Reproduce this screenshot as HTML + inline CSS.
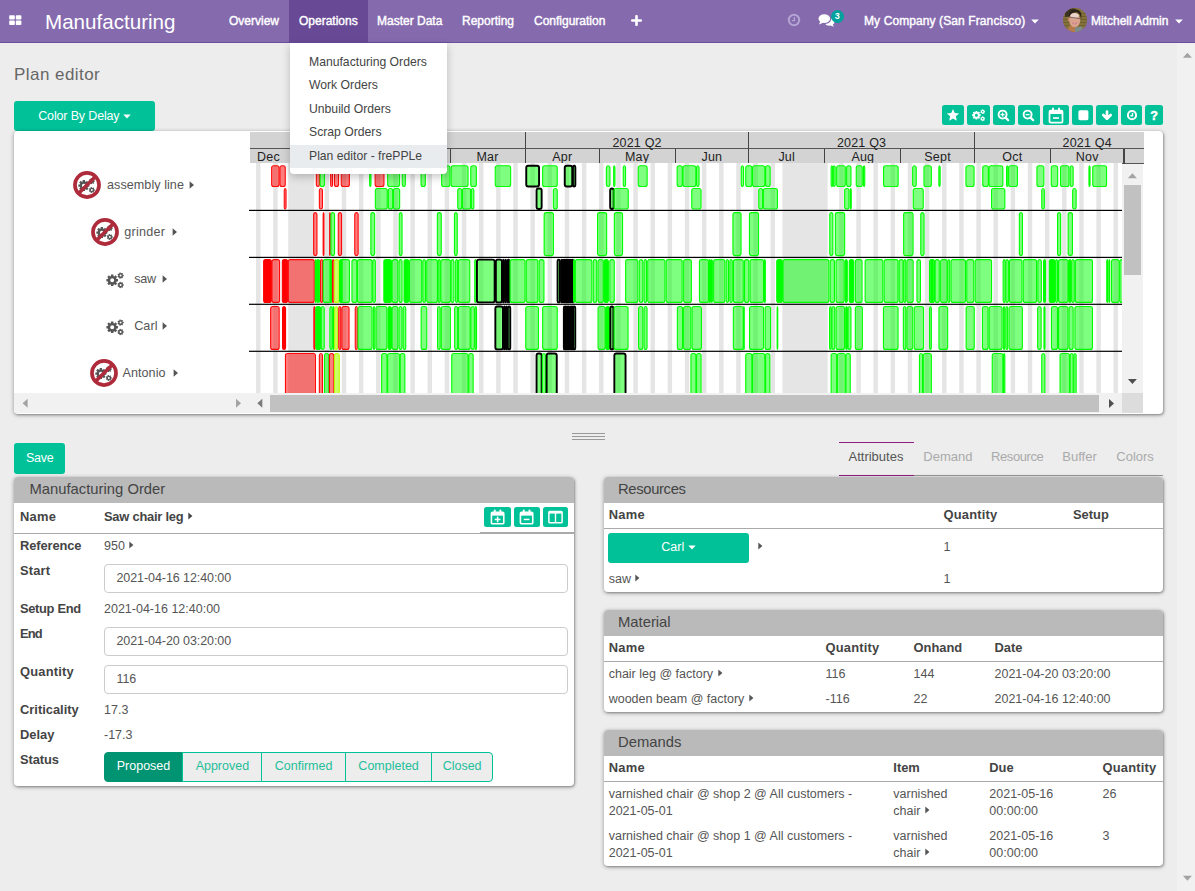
<!DOCTYPE html>
<html><head><meta charset="utf-8"><title>Plan editor</title>
<style>
*{box-sizing:border-box;margin:0;padding:0}
html,body{width:1195px;height:891px;overflow:hidden}
body{background:#ededed;font-family:"Liberation Sans",sans-serif;font-size:12.5px;color:#555;position:relative}
.abs{position:absolute}
#nav{position:absolute;left:0;top:0;width:1195px;height:42.5px;background:#856aae;border-bottom:1.5px solid #6a4f9b}
#nav .mi{position:absolute;top:14px;color:#fff;font-size:12px;line-height:15px;white-space:nowrap;-webkit-text-stroke:0.4px #fff}
#brand{position:absolute;left:45px;top:8.5px;color:#fff;font-size:20.6px;line-height:25px;white-space:nowrap}
#dd{position:absolute;left:290px;top:43px;width:156.5px;height:131.3px;background:#fff;border-radius:0 0 4px 4px;box-shadow:0 3px 8px rgba(0,0,0,0.22)}
#dd div{position:absolute;left:0;width:156.5px;height:23.8px;padding-left:19px;line-height:23.5px;font-size:12.2px;color:#444;white-space:nowrap}
h1{position:absolute;left:14px;top:64px;font-size:17px;font-weight:normal;color:#666;line-height:22px;letter-spacing:0.45px}
.btn{position:absolute;background:#00c198;color:#fff;border-radius:3px;text-align:center;white-space:nowrap}
.tb{position:absolute;top:105px;height:20.3px;background:#00c198;border-radius:2.5px;display:flex;align-items:center;justify-content:center}
.card{position:absolute;background:#fff;border-radius:4px;box-shadow:0 1px 4px rgba(0,0,0,0.36),1px 1px 2px rgba(0,0,0,0.22)}
.gh{position:absolute;text-align:center;font-size:12.5px;color:#222;line-height:14px;height:14px;letter-spacing:0.2px}
.rl{position:absolute;font-size:12.6px;line-height:20px;color:#555;white-space:nowrap;letter-spacing:0.05px}
.ph{position:absolute;left:0;top:0;right:0;height:26px;background:#bababa;border-radius:4px 4px 0 0;font-size:14.8px;color:#444;line-height:25.2px;padding-left:15.5px}
.t{position:absolute;white-space:nowrap;line-height:16px;font-size:12.5px;color:#555}
.b{font-weight:bold;color:#444;font-size:12.9px}
.inp{position:absolute;left:90px;width:463.5px;height:29px;letter-spacing:-0.08px;border:1px solid #ccc;border-radius:4px;background:#fff;padding-left:11.5px;line-height:27.5px;font-size:12.5px;color:#555}
.hr{position:absolute;left:0;right:0;height:1px;background:#aaa}
.ic{display:inline-block;vertical-align:middle;margin-left:4.5px;position:relative;top:-1px}
.sb{position:absolute;top:752.2px;height:29.8px;border:1px solid #00c198;background:#ededed;color:#1fbf9a;line-height:27.5px;text-align:center;font-size:12.5px}
.tab{position:absolute;top:449px;font-size:13px;color:#aaa;line-height:16px;white-space:nowrap}
.sm{position:absolute;top:507px;height:20.2px;background:#00c198;border-radius:2.5px;display:flex;align-items:center;justify-content:center}
</style></head><body>

<!-- ======= page scrollbar ======= -->
<div class="abs" style="left:1177px;top:43px;width:18px;height:848px;background:#f1f1f1"></div>

<h1>Plan editor</h1>
<div class="btn" style="left:14px;top:101px;width:141px;height:29.5px;line-height:31px;font-size:12.5px;letter-spacing:-0.15px">Color By Delay <svg width="8" height="5" viewBox="0 0 8 5" style="vertical-align:middle;position:relative;top:0px"><path d="M0.3 0.5 H7.7 L4 4.5 Z" fill="#fff"/></svg></div>
<div class="tb" style="left:942px;width:22px"><svg width="14" height="14" viewBox="0 0 14 14"><polygon points="7.00,0.90 8.76,4.97 13.18,5.39 9.85,8.33 10.82,12.66 7.00,10.40 3.18,12.66 4.15,8.33 0.82,5.39 5.24,4.97" fill="#fff"/></svg></div>
<div class="tb" style="left:967px;width:22.5px"><svg width="16" height="14" viewBox="0 0 16 14"><g transform="translate(8.5 7) scale(0.75)"><path d="M2.97 -0.94 L2.97 1.54 L1.54 1.49 L1.11 2.53 L2.16 3.50 L0.40 5.26 L-0.57 4.21 L-1.61 4.64 L-1.56 6.07 L-4.04 6.07 L-3.99 4.64 L-5.03 4.21 L-6.00 5.26 L-7.76 3.50 L-6.71 2.53 L-7.14 1.49 L-8.57 1.54 L-8.57 -0.94 L-7.14 -0.89 L-6.71 -1.93 L-7.76 -2.90 L-6.00 -4.66 L-5.03 -3.61 L-3.99 -4.04 L-4.04 -5.47 L-1.56 -5.47 L-1.61 -4.04 L-0.57 -3.61 L0.40 -4.66 L2.16 -2.90 L1.11 -1.93 L1.54 -0.89 Z M-4.80 0.30 a2.00 2.00 0 1 0 4.00 0 a2.00 2.00 0 1 0 -4.00 0 ZM8.71 -5.17 L8.71 -3.63 L7.89 -3.68 L7.59 -3.06 L8.14 -2.45 L6.94 -1.49 L6.46 -2.16 L5.79 -2.01 L5.66 -1.20 L4.16 -1.54 L4.39 -2.33 L3.85 -2.76 L3.13 -2.36 L2.47 -3.74 L3.22 -4.06 L3.22 -4.74 L2.47 -5.06 L3.13 -6.44 L3.85 -6.04 L4.39 -6.47 L4.16 -7.26 L5.66 -7.60 L5.79 -6.79 L6.46 -6.64 L6.94 -7.31 L8.14 -6.35 L7.59 -5.74 L7.89 -5.12 Z M4.60 -4.40 a1.00 1.00 0 1 0 2.00 0 a1.00 1.00 0 1 0 -2.00 0 ZM8.71 4.23 L8.71 5.77 L7.89 5.72 L7.59 6.34 L8.14 6.95 L6.94 7.91 L6.46 7.24 L5.79 7.39 L5.66 8.20 L4.16 7.86 L4.39 7.07 L3.85 6.64 L3.13 7.04 L2.47 5.66 L3.22 5.34 L3.22 4.66 L2.47 4.34 L3.13 2.96 L3.85 3.36 L4.39 2.93 L4.16 2.14 L5.66 1.80 L5.79 2.61 L6.46 2.76 L6.94 2.09 L8.14 3.05 L7.59 3.66 L7.89 4.28 Z M4.60 5.00 a1.00 1.00 0 1 0 2.00 0 a1.00 1.00 0 1 0 -2.00 0 Z" fill="#fff" fill-rule="evenodd"/></g></svg></div>
<div class="tb" style="left:993px;width:21.5px"><svg width="13" height="13" viewBox="0 0 13 13"><circle cx="5.6" cy="5.6" r="4" fill="none" stroke="#fff" stroke-width="1.9"/><line x1="8.6" y1="8.6" x2="11.2" y2="11.2" stroke="#fff" stroke-width="2.2" stroke-linecap="round"/><line x1="3.6" y1="5.6" x2="7.6" y2="5.6" stroke="#fff" stroke-width="1.3"/><line x1="5.6" y1="3.6" x2="5.6" y2="7.6" stroke="#fff" stroke-width="1.3"/></svg></div>
<div class="tb" style="left:1018px;width:21.5px"><svg width="13" height="13" viewBox="0 0 13 13"><circle cx="5.6" cy="5.6" r="4" fill="none" stroke="#fff" stroke-width="1.9"/><line x1="8.6" y1="8.6" x2="11.2" y2="11.2" stroke="#fff" stroke-width="2.2" stroke-linecap="round"/><line x1="3.6" y1="5.6" x2="7.6" y2="5.6" stroke="#fff" stroke-width="1.3"/></svg></div>
<div class="tb" style="left:1043px;width:25.5px"><svg width="16" height="17" viewBox="0 0 16 17"><rect x="1.5" y="3.6" width="13" height="12" rx="1.2" fill="none" stroke="#fff" stroke-width="1.7"/><rect x="1.5" y="3.6" width="13" height="3.4" fill="#fff"/><rect x="4" y="0.6" width="2" height="4.4" rx="1" fill="#fff"/><rect x="10" y="0.6" width="2" height="4.4" rx="1" fill="#fff"/><rect x="5" y="10.2" width="6" height="1.6" fill="#fff"/></svg></div>
<div class="tb" style="left:1072px;width:21px"><svg width="12" height="12" viewBox="0 0 12 12"><rect x="1.4" y="1.2" width="10" height="10" rx="1.6" fill="#fff"/></svg></div>
<div class="tb" style="left:1096px;width:22px"><svg width="12" height="12" viewBox="0 0 12 12"><path d="M6 2.6 V9 M2.3 6 L6 9.7 L9.7 6" fill="none" stroke="#fff" stroke-width="2.7" stroke-linecap="round" stroke-linejoin="round"/></svg></div>
<div class="tb" style="left:1121px;width:21px"><svg width="12" height="12" viewBox="0 0 12 12"><circle cx="6" cy="6.2" r="4.1" fill="none" stroke="#fff" stroke-width="2"/><path d="M6.5 4 V6.8 H4.4" fill="none" stroke="#fff" stroke-width="1.4"/></svg></div>
<div class="tb" style="left:1145px;width:18px"><span style="font-weight:bold;font-size:12.5px;color:#fff;line-height:20px;position:relative;top:1px;-webkit-text-stroke:0.5px #fff">?</span></div>

<!-- ======= gantt card ======= -->
<div class="card" style="left:14px;top:131px;width:1149px;height:282.5px;"></div>
<div style="position:absolute;left:250px;top:131.5px;width:894px;height:32.5px;background:#d3d3d3"></div>
<div style="position:absolute;left:250px;top:147.6px;width:894px;height:1.3px;background:#555"></div>
<div style="position:absolute;left:250px;top:162.9px;width:894px;height:1.3px;background:#555"></div>
<div class="gh" style="left:257px;top:149.5px;width:24px;text-align:left">Dec</div>
<div style="position:absolute;left:304.1px;top:132px;width:1.3px;height:31.5px;background:#444"></div>
<div class="gh" style="left:312.8px;top:149.5px;width:60px">Jan</div>
<div style="position:absolute;left:380.2px;top:148.5px;width:1.3px;height:15px;background:#444"></div>
<div class="gh" style="left:385.1px;top:149.5px;width:60px">Feb</div>
<div style="position:absolute;left:449.7px;top:148.5px;width:1.3px;height:15px;background:#444"></div>
<div class="gh" style="left:457.5px;top:149.5px;width:60px">Mar</div>
<div style="position:absolute;left:524.9px;top:132px;width:1.3px;height:31.5px;background:#444"></div>
<div class="gh" style="left:532.3px;top:149.5px;width:60px">Apr</div>
<div style="position:absolute;left:598.5px;top:148.5px;width:1.3px;height:15px;background:#444"></div>
<div class="gh" style="left:607.1px;top:149.5px;width:60px">May</div>
<div style="position:absolute;left:674.5px;top:148.5px;width:1.3px;height:15px;background:#444"></div>
<div class="gh" style="left:681.9px;top:149.5px;width:60px">Jun</div>
<div style="position:absolute;left:748.1px;top:132px;width:1.3px;height:31.5px;background:#444"></div>
<div class="gh" style="left:756.7px;top:149.5px;width:60px">Jul</div>
<div style="position:absolute;left:824.2px;top:148.5px;width:1.3px;height:15px;background:#444"></div>
<div class="gh" style="left:832.8px;top:149.5px;width:60px">Aug</div>
<div style="position:absolute;left:900.2px;top:148.5px;width:1.3px;height:15px;background:#444"></div>
<div class="gh" style="left:907.6px;top:149.5px;width:60px">Sept</div>
<div style="position:absolute;left:973.8px;top:132px;width:1.3px;height:31.5px;background:#444"></div>
<div class="gh" style="left:982.4px;top:149.5px;width:60px">Oct</div>
<div style="position:absolute;left:1049.8px;top:148.5px;width:1.3px;height:15px;background:#444"></div>
<div class="gh" style="left:1057.2px;top:149.5px;width:60px">Nov</div>
<div style="position:absolute;left:1123.4px;top:148.5px;width:1.3px;height:15px;background:#444"></div>
<div class="gh" style="left:597.1px;top:135.5px;width:80px">2021 Q2</div>
<div class="gh" style="left:821.6px;top:135.5px;width:80px">2021 Q3</div>
<div class="gh" style="left:1047.2px;top:135.5px;width:80px">2021 Q4</div>
<svg width="873" height="230.5" viewBox="0 0 873 230.5" style="position:absolute;left:249px;top:163px;overflow:hidden">
<rect x="0" y="0" width="873" height="230.5" fill="#fff"/>
<rect x="7.05" y="0" width="4.45" height="230.5" fill="#e5e5e5"/>
<rect x="24.20" y="0" width="4.45" height="230.5" fill="#e5e5e5"/>
<rect x="41.35" y="0" width="4.45" height="230.5" fill="#e5e5e5"/>
<rect x="58.50" y="0" width="4.45" height="230.5" fill="#e5e5e5"/>
<rect x="75.65" y="0" width="4.45" height="230.5" fill="#e5e5e5"/>
<rect x="92.80" y="0" width="4.45" height="230.5" fill="#e5e5e5"/>
<rect x="109.95" y="0" width="4.45" height="230.5" fill="#e5e5e5"/>
<rect x="127.10" y="0" width="4.45" height="230.5" fill="#e5e5e5"/>
<rect x="144.25" y="0" width="4.45" height="230.5" fill="#e5e5e5"/>
<rect x="161.40" y="0" width="4.45" height="230.5" fill="#e5e5e5"/>
<rect x="178.55" y="0" width="4.45" height="230.5" fill="#e5e5e5"/>
<rect x="195.70" y="0" width="4.45" height="230.5" fill="#e5e5e5"/>
<rect x="212.85" y="0" width="4.45" height="230.5" fill="#e5e5e5"/>
<rect x="230.00" y="0" width="4.45" height="230.5" fill="#e5e5e5"/>
<rect x="247.15" y="0" width="4.45" height="230.5" fill="#e5e5e5"/>
<rect x="264.30" y="0" width="4.45" height="230.5" fill="#e5e5e5"/>
<rect x="281.45" y="0" width="4.45" height="230.5" fill="#e5e5e5"/>
<rect x="298.60" y="0" width="4.45" height="230.5" fill="#e5e5e5"/>
<rect x="315.75" y="0" width="4.45" height="230.5" fill="#e5e5e5"/>
<rect x="332.90" y="0" width="4.45" height="230.5" fill="#e5e5e5"/>
<rect x="350.05" y="0" width="4.45" height="230.5" fill="#e5e5e5"/>
<rect x="367.20" y="0" width="4.45" height="230.5" fill="#e5e5e5"/>
<rect x="384.35" y="0" width="4.45" height="230.5" fill="#e5e5e5"/>
<rect x="401.50" y="0" width="4.45" height="230.5" fill="#e5e5e5"/>
<rect x="418.65" y="0" width="4.45" height="230.5" fill="#e5e5e5"/>
<rect x="435.80" y="0" width="4.45" height="230.5" fill="#e5e5e5"/>
<rect x="452.95" y="0" width="4.45" height="230.5" fill="#e5e5e5"/>
<rect x="470.10" y="0" width="4.45" height="230.5" fill="#e5e5e5"/>
<rect x="487.25" y="0" width="4.45" height="230.5" fill="#e5e5e5"/>
<rect x="504.40" y="0" width="4.45" height="230.5" fill="#e5e5e5"/>
<rect x="521.55" y="0" width="4.45" height="230.5" fill="#e5e5e5"/>
<rect x="538.70" y="0" width="4.45" height="230.5" fill="#e5e5e5"/>
<rect x="555.85" y="0" width="4.45" height="230.5" fill="#e5e5e5"/>
<rect x="573.00" y="0" width="4.45" height="230.5" fill="#e5e5e5"/>
<rect x="590.15" y="0" width="4.45" height="230.5" fill="#e5e5e5"/>
<rect x="607.30" y="0" width="4.45" height="230.5" fill="#e5e5e5"/>
<rect x="624.45" y="0" width="4.45" height="230.5" fill="#e5e5e5"/>
<rect x="641.60" y="0" width="4.45" height="230.5" fill="#e5e5e5"/>
<rect x="658.75" y="0" width="4.45" height="230.5" fill="#e5e5e5"/>
<rect x="675.90" y="0" width="4.45" height="230.5" fill="#e5e5e5"/>
<rect x="693.05" y="0" width="4.45" height="230.5" fill="#e5e5e5"/>
<rect x="710.20" y="0" width="4.45" height="230.5" fill="#e5e5e5"/>
<rect x="727.35" y="0" width="4.45" height="230.5" fill="#e5e5e5"/>
<rect x="744.50" y="0" width="4.45" height="230.5" fill="#e5e5e5"/>
<rect x="761.65" y="0" width="4.45" height="230.5" fill="#e5e5e5"/>
<rect x="778.80" y="0" width="4.45" height="230.5" fill="#e5e5e5"/>
<rect x="795.95" y="0" width="4.45" height="230.5" fill="#e5e5e5"/>
<rect x="813.10" y="0" width="4.45" height="230.5" fill="#e5e5e5"/>
<rect x="830.25" y="0" width="4.45" height="230.5" fill="#e5e5e5"/>
<rect x="847.40" y="0" width="4.45" height="230.5" fill="#e5e5e5"/>
<rect x="864.55" y="0" width="4.45" height="230.5" fill="#e5e5e5"/>
<rect x="39.20" y="0" width="26.00" height="230.5" fill="#e5e5e5"/>
<rect x="533.40" y="0" width="45.20" height="230.5" fill="#e5e5e5"/>
<rect x="22.65" y="2.70" width="7.40" height="20.80" rx="2" ry="2" fill="rgba(255,0,0,0.5)" stroke="#ff0a0a" stroke-width="1.1"/>
<rect x="30.95" y="2.70" width="5.30" height="20.80" rx="2" ry="2" fill="rgba(255,0,0,0.5)" stroke="#ff0a0a" stroke-width="1.1"/>
<rect x="67.35" y="2.70" width="3.10" height="20.80" rx="2" ry="2" fill="rgba(255,0,0,0.5)" stroke="#ff0a0a" stroke-width="1.1"/>
<rect x="71.15" y="2.70" width="4.30" height="20.80" rx="2" ry="2" fill="rgba(0,255,0,0.5)" stroke="#00ff00" stroke-width="1.1"/>
<rect x="81.65" y="2.70" width="1.90" height="20.80" rx="2" ry="2" fill="rgba(255,0,0,0.5)" stroke="#ff0a0a" stroke-width="1.1"/>
<rect x="85.45" y="2.70" width="4.10" height="20.80" rx="2" ry="2" fill="rgba(255,0,0,0.5)" stroke="#ff0a0a" stroke-width="1.1"/>
<rect x="92.25" y="2.70" width="8.10" height="20.80" rx="2" ry="2" fill="rgba(255,0,0,0.5)" stroke="#ff0a0a" stroke-width="1.1"/>
<rect x="120.65" y="2.70" width="1.30" height="20.80" rx="2" ry="2" fill="rgba(0,255,0,0.5)" stroke="#00ff00" stroke-width="1.1"/>
<rect x="126.15" y="2.70" width="8.80" height="20.80" rx="2" ry="2" fill="rgba(255,0,0,0.5)" stroke="#ff0a0a" stroke-width="1.1"/>
<rect x="138.65" y="2.70" width="11.90" height="20.80" rx="2" ry="2" fill="rgba(0,255,0,0.5)" stroke="#00ff00" stroke-width="1.1"/>
<rect x="153.25" y="2.70" width="3.10" height="20.80" rx="2" ry="2" fill="rgba(0,255,0,0.5)" stroke="#00ff00" stroke-width="1.1"/>
<rect x="172.05" y="2.70" width="4.30" height="20.80" rx="2" ry="2" fill="rgba(0,255,0,0.5)" stroke="#00ff00" stroke-width="1.1"/>
<rect x="192.65" y="2.70" width="8.30" height="20.80" rx="2" ry="2" fill="rgba(0,255,0,0.5)" stroke="#00ff00" stroke-width="1.1"/>
<rect x="202.15" y="2.70" width="16.90" height="20.80" rx="2" ry="2" fill="rgba(0,255,0,0.5)" stroke="#00ff00" stroke-width="1.1"/>
<rect x="221.75" y="2.70" width="5.60" height="20.80" rx="2" ry="2" fill="rgba(0,255,0,0.5)" stroke="#00ff00" stroke-width="1.1"/>
<rect x="246.25" y="2.70" width="15.40" height="20.80" rx="2" ry="2" fill="rgba(0,255,0,0.5)" stroke="#00ff00" stroke-width="1.1"/>
<rect x="277.25" y="2.70" width="12.80" height="20.80" rx="2" ry="2" fill="rgba(0,255,0,0.5)" stroke="#000" stroke-width="1.9"/>
<rect x="293.65" y="2.70" width="14.60" height="20.80" rx="2" ry="2" fill="rgba(0,255,0,0.5)" stroke="#00ff00" stroke-width="1.1"/>
<rect x="315.75" y="2.70" width="7.50" height="20.80" rx="2" ry="2" fill="rgba(0,255,0,0.5)" stroke="#000" stroke-width="1.9"/>
<rect x="323.95" y="2.70" width="2.40" height="20.80" rx="2" ry="2" fill="rgba(0,255,0,0.5)" stroke="#000" stroke-width="1.9"/>
<rect x="357.35" y="2.70" width="3.60" height="20.80" rx="2" ry="2" fill="rgba(0,255,0,0.5)" stroke="#00ff00" stroke-width="1.1"/>
<rect x="364.65" y="2.70" width="1.30" height="20.80" rx="2" ry="2" fill="rgba(0,255,0,0.5)" stroke="#00ff00" stroke-width="1.1"/>
<rect x="374.25" y="2.70" width="2.30" height="20.80" rx="2" ry="2" fill="rgba(0,255,0,0.5)" stroke="#00ff00" stroke-width="1.1"/>
<rect x="389.25" y="2.70" width="8.90" height="20.80" rx="2" ry="2" fill="rgba(0,255,0,0.5)" stroke="#00ff00" stroke-width="1.1"/>
<rect x="428.15" y="2.70" width="5.10" height="20.80" rx="2" ry="2" fill="rgba(0,255,0,0.5)" stroke="#00ff00" stroke-width="1.1"/>
<rect x="433.95" y="2.70" width="12.90" height="20.80" rx="2" ry="2" fill="rgba(0,255,0,0.5)" stroke="#00ff00" stroke-width="1.1"/>
<rect x="447.55" y="2.70" width="2.50" height="20.80" rx="2" ry="2" fill="rgba(0,255,0,0.5)" stroke="#00ff00" stroke-width="1.1"/>
<rect x="492.25" y="2.70" width="2.30" height="20.80" rx="2" ry="2" fill="rgba(0,255,0,0.5)" stroke="#00ff00" stroke-width="1.1"/>
<rect x="496.75" y="2.70" width="6.10" height="20.80" rx="2" ry="2" fill="rgba(0,255,0,0.5)" stroke="#00ff00" stroke-width="1.1"/>
<rect x="503.55" y="2.70" width="12.30" height="20.80" rx="2" ry="2" fill="rgba(0,255,0,0.5)" stroke="#00ff00" stroke-width="1.1"/>
<rect x="516.55" y="2.70" width="4.60" height="20.80" rx="2" ry="2" fill="rgba(0,255,0,0.5)" stroke="#00ff00" stroke-width="1.1"/>
<rect x="582.15" y="2.70" width="1.50" height="20.80" rx="2" ry="2" fill="rgba(0,255,0,0.5)" stroke="#00ff00" stroke-width="1.1"/>
<rect x="584.35" y="2.70" width="1.80" height="20.80" rx="2" ry="2" fill="rgba(0,255,0,0.5)" stroke="#00ff00" stroke-width="1.1"/>
<rect x="587.65" y="2.70" width="8.60" height="20.80" rx="2" ry="2" fill="rgba(0,255,0,0.5)" stroke="#00ff00" stroke-width="1.1"/>
<rect x="597.65" y="2.70" width="4.30" height="20.80" rx="2" ry="2" fill="rgba(0,255,0,0.5)" stroke="#00ff00" stroke-width="1.1"/>
<rect x="607.25" y="2.70" width="6.00" height="20.80" rx="2" ry="2" fill="rgba(0,255,0,0.5)" stroke="#00ff00" stroke-width="1.1"/>
<rect x="614.45" y="2.70" width="1.30" height="20.80" rx="2" ry="2" fill="rgba(0,255,0,0.5)" stroke="#00ff00" stroke-width="1.1"/>
<rect x="634.55" y="2.70" width="14.60" height="20.80" rx="2" ry="2" fill="rgba(0,255,0,0.5)" stroke="#00ff00" stroke-width="1.1"/>
<rect x="663.65" y="2.70" width="3.60" height="20.80" rx="2" ry="2" fill="rgba(0,255,0,0.5)" stroke="#00ff00" stroke-width="1.1"/>
<rect x="674.95" y="2.70" width="7.40" height="20.80" rx="2" ry="2" fill="rgba(0,255,0,0.5)" stroke="#00ff00" stroke-width="1.1"/>
<rect x="689.85" y="2.70" width="1.30" height="20.80" rx="2" ry="2" fill="rgba(0,255,0,0.5)" stroke="#00ff00" stroke-width="1.1"/>
<rect x="716.95" y="2.70" width="8.10" height="20.80" rx="2" ry="2" fill="rgba(0,255,0,0.5)" stroke="#00ff00" stroke-width="1.1"/>
<rect x="733.75" y="2.70" width="5.60" height="20.80" rx="2" ry="2" fill="rgba(0,255,0,0.5)" stroke="#00ff00" stroke-width="1.1"/>
<rect x="740.05" y="2.70" width="13.80" height="20.80" rx="2" ry="2" fill="rgba(0,255,0,0.5)" stroke="#00ff00" stroke-width="1.1"/>
<rect x="757.55" y="2.70" width="1.40" height="20.80" rx="2" ry="2" fill="rgba(0,255,0,0.5)" stroke="#00ff00" stroke-width="1.1"/>
<rect x="759.65" y="2.70" width="8.80" height="20.80" rx="2" ry="2" fill="rgba(0,255,0,0.5)" stroke="#00ff00" stroke-width="1.1"/>
<rect x="787.95" y="2.70" width="6.90" height="20.80" rx="2" ry="2" fill="rgba(0,255,0,0.5)" stroke="#00ff00" stroke-width="1.1"/>
<rect x="802.25" y="2.70" width="6.40" height="20.80" rx="2" ry="2" fill="rgba(0,255,0,0.5)" stroke="#00ff00" stroke-width="1.1"/>
<rect x="811.55" y="2.70" width="8.40" height="20.80" rx="2" ry="2" fill="rgba(0,255,0,0.5)" stroke="#00ff00" stroke-width="1.1"/>
<rect x="821.15" y="2.70" width="3.00" height="20.80" rx="2" ry="2" fill="rgba(0,255,0,0.5)" stroke="#00ff00" stroke-width="1.1"/>
<rect x="839.95" y="2.70" width="1.10" height="20.80" rx="2" ry="2" fill="rgba(0,255,0,0.5)" stroke="#00ff00" stroke-width="1.1"/>
<rect x="843.75" y="2.70" width="13.80" height="20.80" rx="2" ry="2" fill="rgba(0,255,0,0.5)" stroke="#00ff00" stroke-width="1.1"/>
<rect x="35.25" y="25.50" width="1.80" height="20.50" rx="2" ry="2" fill="rgba(255,0,0,0.5)" stroke="#ff0a0a" stroke-width="1.1"/>
<rect x="70.35" y="25.50" width="3.10" height="20.50" rx="2" ry="2" fill="rgba(255,0,0,0.5)" stroke="#ff0a0a" stroke-width="1.1"/>
<rect x="126.35" y="25.50" width="11.90" height="20.50" rx="2" ry="2" fill="rgba(0,255,0,0.5)" stroke="#00ff00" stroke-width="1.1"/>
<rect x="139.35" y="25.50" width="4.30" height="20.50" rx="2" ry="2" fill="rgba(0,255,0,0.5)" stroke="#00ff00" stroke-width="1.1"/>
<rect x="144.35" y="25.50" width="6.30" height="20.50" rx="2" ry="2" fill="rgba(0,255,0,0.5)" stroke="#00ff00" stroke-width="1.1"/>
<rect x="208.75" y="25.50" width="4.00" height="20.50" rx="2" ry="2" fill="rgba(0,255,0,0.5)" stroke="#00ff00" stroke-width="1.1"/>
<rect x="213.45" y="25.50" width="8.20" height="20.50" rx="2" ry="2" fill="rgba(0,255,0,0.5)" stroke="#00ff00" stroke-width="1.1"/>
<rect x="222.35" y="25.50" width="2.50" height="20.50" rx="2" ry="2" fill="rgba(0,255,0,0.5)" stroke="#00ff00" stroke-width="1.1"/>
<rect x="287.55" y="25.50" width="5.10" height="20.50" rx="2" ry="2" fill="rgba(0,255,0,0.5)" stroke="#000" stroke-width="1.9"/>
<rect x="304.35" y="25.50" width="3.90" height="20.50" rx="2" ry="2" fill="rgba(0,255,0,0.5)" stroke="#00ff00" stroke-width="1.1"/>
<rect x="361.15" y="25.50" width="3.50" height="20.50" rx="2" ry="2" fill="rgba(0,255,0,0.5)" stroke="#000" stroke-width="1.9"/>
<rect x="364.95" y="25.50" width="14.30" height="20.50" rx="2" ry="2" fill="rgba(0,255,0,0.5)" stroke="#00ff00" stroke-width="1.1"/>
<rect x="442.75" y="25.50" width="9.30" height="20.50" rx="2" ry="2" fill="rgba(0,255,0,0.5)" stroke="#00ff00" stroke-width="1.1"/>
<rect x="509.75" y="25.50" width="3.90" height="20.50" rx="2" ry="2" fill="rgba(0,255,0,0.5)" stroke="#00ff00" stroke-width="1.1"/>
<rect x="514.35" y="25.50" width="14.10" height="20.50" rx="2" ry="2" fill="rgba(0,255,0,0.5)" stroke="#00ff00" stroke-width="1.1"/>
<rect x="595.65" y="25.50" width="4.30" height="20.50" rx="2" ry="2" fill="rgba(0,255,0,0.5)" stroke="#00ff00" stroke-width="1.1"/>
<rect x="601.15" y="25.50" width="1.10" height="20.50" rx="2" ry="2" fill="rgba(0,255,0,0.5)" stroke="#00ff00" stroke-width="1.1"/>
<rect x="664.25" y="25.50" width="10.00" height="20.50" rx="2" ry="2" fill="rgba(0,255,0,0.5)" stroke="#00ff00" stroke-width="1.1"/>
<rect x="742.55" y="25.50" width="13.30" height="20.50" rx="2" ry="2" fill="rgba(0,255,0,0.5)" stroke="#00ff00" stroke-width="1.1"/>
<rect x="792.75" y="25.50" width="2.60" height="20.50" rx="2" ry="2" fill="rgba(0,255,0,0.5)" stroke="#00ff00" stroke-width="1.1"/>
<rect x="823.65" y="25.50" width="3.50" height="20.50" rx="2" ry="2" fill="rgba(0,255,0,0.5)" stroke="#00ff00" stroke-width="1.1"/>
<rect x="64.65" y="49.60" width="3.30" height="43.00" rx="2" ry="2" fill="rgba(255,0,0,0.5)" stroke="#ff0a0a" stroke-width="1.1"/>
<rect x="74.15" y="49.60" width="0.80" height="43.00" rx="2" ry="2" fill="rgba(255,0,0,0.5)" stroke="#ff0a0a" stroke-width="1.1"/>
<rect x="80.65" y="49.60" width="0.60" height="43.00" rx="2" ry="2" fill="rgba(255,0,0,0.5)" stroke="#ff0a0a" stroke-width="1.1"/>
<rect x="81.95" y="49.60" width="3.60" height="43.00" rx="2" ry="2" fill="rgba(0,255,0,0.5)" stroke="#00ff00" stroke-width="1.1"/>
<rect x="89.25" y="49.60" width="3.30" height="43.00" rx="2" ry="2" fill="rgba(255,0,0,0.5)" stroke="#ff0a0a" stroke-width="1.1"/>
<rect x="105.75" y="49.60" width="3.40" height="43.00" rx="2" ry="2" fill="rgba(255,0,0,0.5)" stroke="#ff0a0a" stroke-width="1.1"/>
<rect x="121.85" y="49.60" width="3.80" height="43.00" rx="2" ry="2" fill="rgba(0,255,0,0.5)" stroke="#00ff00" stroke-width="1.1"/>
<rect x="150.25" y="49.60" width="2.80" height="43.00" rx="2" ry="2" fill="rgba(0,255,0,0.5)" stroke="#00ff00" stroke-width="1.1"/>
<rect x="188.35" y="49.60" width="3.90" height="43.00" rx="2" ry="2" fill="rgba(0,255,0,0.5)" stroke="#00ff00" stroke-width="1.1"/>
<rect x="205.45" y="49.60" width="2.80" height="43.00" rx="2" ry="2" fill="rgba(0,255,0,0.5)" stroke="#00ff00" stroke-width="1.1"/>
<rect x="295.15" y="49.60" width="9.30" height="43.00" rx="2" ry="2" fill="rgba(0,255,0,0.5)" stroke="#00ff00" stroke-width="1.1"/>
<rect x="348.55" y="49.60" width="9.10" height="43.00" rx="2" ry="2" fill="rgba(0,255,0,0.5)" stroke="#00ff00" stroke-width="1.1"/>
<rect x="365.35" y="49.60" width="8.20" height="43.00" rx="2" ry="2" fill="rgba(0,255,0,0.5)" stroke="#00ff00" stroke-width="1.1"/>
<rect x="483.95" y="49.60" width="8.10" height="43.00" rx="2" ry="2" fill="rgba(0,255,0,0.5)" stroke="#00ff00" stroke-width="1.1"/>
<rect x="500.45" y="49.60" width="9.10" height="43.00" rx="2" ry="2" fill="rgba(0,255,0,0.5)" stroke="#00ff00" stroke-width="1.1"/>
<rect x="580.75" y="49.60" width="3.10" height="43.00" rx="2" ry="2" fill="rgba(0,255,0,0.5)" stroke="#00ff00" stroke-width="1.1"/>
<rect x="586.35" y="49.60" width="9.30" height="43.00" rx="2" ry="2" fill="rgba(0,255,0,0.5)" stroke="#00ff00" stroke-width="1.1"/>
<rect x="654.65" y="49.60" width="9.40" height="43.00" rx="2" ry="2" fill="rgba(0,255,0,0.5)" stroke="#00ff00" stroke-width="1.1"/>
<rect x="671.75" y="49.60" width="3.30" height="43.00" rx="2" ry="2" fill="rgba(0,255,0,0.5)" stroke="#00ff00" stroke-width="1.1"/>
<rect x="770.35" y="49.60" width="3.10" height="43.00" rx="2" ry="2" fill="rgba(0,255,0,0.5)" stroke="#00ff00" stroke-width="1.1"/>
<rect x="808.55" y="49.60" width="3.10" height="43.00" rx="2" ry="2" fill="rgba(0,255,0,0.5)" stroke="#00ff00" stroke-width="1.1"/>
<rect x="819.15" y="49.60" width="4.30" height="43.00" rx="2" ry="2" fill="rgba(0,255,0,0.5)" stroke="#00ff00" stroke-width="1.1"/>
<rect x="14.65" y="96.60" width="7.70" height="42.80" rx="2" ry="2" fill="#ff0000" stroke="#ff0000" stroke-width="1.1"/>
<rect x="23.05" y="96.60" width="7.50" height="42.80" rx="2" ry="2" fill="rgba(255,0,0,0.5)" stroke="#ff0a0a" stroke-width="1.1"/>
<rect x="33.35" y="96.60" width="5.30" height="42.80" rx="2" ry="2" fill="#ff0000" stroke="#ff0000" stroke-width="1.1"/>
<rect x="39.35" y="96.60" width="25.90" height="42.80" rx="2" ry="2" fill="rgba(255,0,0,0.5)" stroke="#ff0a0a" stroke-width="1.1"/>
<rect x="66.25" y="96.60" width="0.60" height="42.80" rx="2" ry="2" fill="#00ff00" stroke="#00ff00" stroke-width="1.1"/>
<rect x="67.35" y="96.60" width="3.50" height="42.80" rx="2" ry="2" fill="#00ff00" stroke="#00ff00" stroke-width="1.1"/>
<rect x="71.55" y="96.60" width="2.00" height="42.80" rx="2" ry="2" fill="rgba(255,0,0,0.5)" stroke="#ff0a0a" stroke-width="1.1"/>
<rect x="74.25" y="96.60" width="8.40" height="42.80" rx="2" ry="2" fill="rgba(0,255,0,0.5)" stroke="#00ff00" stroke-width="1.1"/>
<rect x="80.95" y="96.60" width="1.70" height="42.80" rx="2" ry="2" fill="#00ff00" stroke="#00ff00" stroke-width="1.1"/>
<rect x="83.45" y="96.60" width="1.50" height="42.80" rx="2" ry="2" fill="rgba(255,0,0,0.5)" stroke="#ff0a0a" stroke-width="1.1"/>
<rect x="85.35" y="96.60" width="4.70" height="42.80" rx="2" ry="2" fill="rgba(170,255,0,0.6)" stroke="#b4ff00" stroke-width="1.1"/>
<rect x="90.75" y="96.60" width="9.70" height="42.80" rx="2" ry="2" fill="rgba(0,255,0,0.5)" stroke="#00ff00" stroke-width="1.1"/>
<rect x="90.75" y="96.60" width="2.40" height="42.80" rx="2" ry="2" fill="#00ff00" stroke="#00ff00" stroke-width="1.1"/>
<rect x="102.95" y="96.60" width="4.80" height="42.80" rx="2" ry="2" fill="rgba(0,255,0,0.5)" stroke="#00ff00" stroke-width="1.1"/>
<rect x="108.45" y="96.60" width="14.60" height="42.80" rx="2" ry="2" fill="rgba(0,255,0,0.5)" stroke="#00ff00" stroke-width="1.1"/>
<rect x="123.75" y="96.60" width="2.60" height="42.80" rx="2" ry="2" fill="rgba(0,255,0,0.5)" stroke="#00ff00" stroke-width="1.1"/>
<rect x="134.85" y="96.60" width="7.60" height="42.80" rx="2" ry="2" fill="#00ff00" stroke="#00ff00" stroke-width="1.1"/>
<rect x="143.15" y="96.60" width="5.70" height="42.80" rx="2" ry="2" fill="rgba(0,255,0,0.5)" stroke="#00ff00" stroke-width="1.1"/>
<rect x="150.05" y="96.60" width="3.00" height="42.80" rx="2" ry="2" fill="rgba(0,255,0,0.5)" stroke="#00ff00" stroke-width="1.1"/>
<rect x="155.05" y="96.60" width="4.80" height="42.80" rx="2" ry="2" fill="#00ff00" stroke="#00ff00" stroke-width="1.1"/>
<rect x="160.55" y="96.60" width="12.20" height="42.80" rx="2" ry="2" fill="rgba(0,255,0,0.5)" stroke="#00ff00" stroke-width="1.1"/>
<rect x="173.85" y="96.60" width="2.60" height="42.80" rx="2" ry="2" fill="rgba(0,255,0,0.5)" stroke="#00ff00" stroke-width="1.1"/>
<rect x="177.75" y="96.60" width="10.70" height="42.80" rx="2" ry="2" fill="rgba(0,255,0,0.5)" stroke="#00ff00" stroke-width="1.1"/>
<rect x="189.15" y="96.60" width="2.00" height="42.80" rx="2" ry="2" fill="rgba(0,255,0,0.5)" stroke="#00ff00" stroke-width="1.1"/>
<rect x="191.85" y="96.60" width="9.50" height="42.80" rx="2" ry="2" fill="rgba(0,255,0,0.5)" stroke="#00ff00" stroke-width="1.1"/>
<rect x="202.05" y="96.60" width="2.90" height="42.80" rx="2" ry="2" fill="rgba(0,255,0,0.5)" stroke="#00ff00" stroke-width="1.1"/>
<rect x="206.65" y="96.60" width="2.00" height="42.80" rx="2" ry="2" fill="rgba(0,255,0,0.5)" stroke="#00ff00" stroke-width="1.1"/>
<rect x="209.35" y="96.60" width="11.40" height="42.80" rx="2" ry="2" fill="rgba(0,255,0,0.5)" stroke="#00ff00" stroke-width="1.1"/>
<rect x="225.75" y="96.60" width="1.50" height="42.80" rx="2" ry="2" fill="rgba(0,255,0,0.5)" stroke="#00ff00" stroke-width="1.1"/>
<rect x="227.95" y="96.60" width="17.70" height="42.80" rx="2" ry="2" fill="rgba(0,255,0,0.5)" stroke="#000" stroke-width="1.9"/>
<rect x="246.85" y="96.60" width="6.10" height="42.80" rx="2" ry="2" fill="rgba(0,255,0,0.5)" stroke="#000" stroke-width="1.9"/>
<rect x="253.85" y="96.60" width="1.10" height="42.80" rx="2" ry="2" fill="rgba(0,255,0,0.5)" stroke="#000" stroke-width="1.9"/>
<rect x="256.15" y="96.60" width="1.00" height="42.80" rx="2" ry="2" fill="rgba(0,255,0,0.5)" stroke="#000" stroke-width="1.9"/>
<rect x="258.55" y="96.60" width="1.80" height="42.80" rx="2" ry="2" fill="rgba(0,255,0,0.5)" stroke="#000" stroke-width="1.9"/>
<rect x="261.05" y="96.60" width="15.00" height="42.80" rx="2" ry="2" fill="rgba(0,255,0,0.5)" stroke="#00ff00" stroke-width="1.1"/>
<rect x="277.25" y="96.60" width="11.60" height="42.80" rx="2" ry="2" fill="rgba(0,255,0,0.5)" stroke="#00ff00" stroke-width="1.1"/>
<rect x="290.15" y="96.60" width="4.80" height="42.80" rx="2" ry="2" fill="rgba(0,255,0,0.5)" stroke="#00ff00" stroke-width="1.1"/>
<rect x="308.55" y="96.60" width="2.40" height="42.80" rx="2" ry="2" fill="rgba(0,255,0,0.5)" stroke="#000" stroke-width="1.9"/>
<rect x="312.25" y="96.60" width="0.90" height="42.80" rx="2" ry="2" fill="rgba(0,255,0,0.5)" stroke="#000" stroke-width="1.9"/>
<rect x="313.65" y="96.60" width="1.00" height="42.80" rx="2" ry="2" fill="rgba(0,255,0,0.5)" stroke="#000" stroke-width="1.9"/>
<rect x="315.15" y="96.60" width="1.00" height="42.80" rx="2" ry="2" fill="rgba(0,255,0,0.5)" stroke="#000" stroke-width="1.9"/>
<rect x="316.65" y="96.60" width="1.00" height="42.80" rx="2" ry="2" fill="rgba(0,255,0,0.5)" stroke="#000" stroke-width="1.9"/>
<rect x="318.15" y="96.60" width="1.00" height="42.80" rx="2" ry="2" fill="rgba(0,255,0,0.5)" stroke="#000" stroke-width="1.9"/>
<rect x="319.65" y="96.60" width="1.00" height="42.80" rx="2" ry="2" fill="rgba(0,255,0,0.5)" stroke="#000" stroke-width="1.9"/>
<rect x="321.15" y="96.60" width="1.00" height="42.80" rx="2" ry="2" fill="rgba(0,255,0,0.5)" stroke="#000" stroke-width="1.9"/>
<rect x="322.65" y="96.60" width="1.80" height="42.80" rx="2" ry="2" fill="rgba(0,255,0,0.5)" stroke="#000" stroke-width="1.9"/>
<rect x="312.85" y="96.60" width="10.80" height="42.80" rx="2" ry="2" fill="#000" stroke="#000" stroke-width="1.1"/>
<rect x="324.55" y="96.60" width="1.10" height="42.80" rx="2" ry="2" fill="rgba(0,255,0,0.5)" stroke="#00ff00" stroke-width="1.1"/>
<rect x="326.35" y="96.60" width="16.50" height="42.80" rx="2" ry="2" fill="rgba(0,255,0,0.5)" stroke="#00ff00" stroke-width="1.1"/>
<rect x="344.25" y="96.60" width="3.50" height="42.80" rx="2" ry="2" fill="rgba(0,255,0,0.5)" stroke="#00ff00" stroke-width="1.1"/>
<rect x="349.05" y="96.60" width="5.20" height="42.80" rx="2" ry="2" fill="rgba(0,255,0,0.5)" stroke="#00ff00" stroke-width="1.1"/>
<rect x="354.95" y="96.60" width="4.40" height="42.80" rx="2" ry="2" fill="#00ff00" stroke="#00ff00" stroke-width="1.1"/>
<rect x="360.85" y="96.60" width="4.40" height="42.80" rx="2" ry="2" fill="rgba(0,255,0,0.5)" stroke="#00ff00" stroke-width="1.1"/>
<rect x="376.65" y="96.60" width="12.20" height="42.80" rx="2" ry="2" fill="rgba(0,255,0,0.5)" stroke="#00ff00" stroke-width="1.1"/>
<rect x="390.25" y="96.60" width="3.60" height="42.80" rx="2" ry="2" fill="rgba(0,255,0,0.5)" stroke="#00ff00" stroke-width="1.1"/>
<rect x="395.05" y="96.60" width="2.50" height="42.80" rx="2" ry="2" fill="rgba(0,255,0,0.5)" stroke="#00ff00" stroke-width="1.1"/>
<rect x="398.75" y="96.60" width="17.20" height="42.80" rx="2" ry="2" fill="rgba(0,255,0,0.5)" stroke="#00ff00" stroke-width="1.1"/>
<rect x="417.15" y="96.60" width="16.00" height="42.80" rx="2" ry="2" fill="rgba(0,255,0,0.5)" stroke="#00ff00" stroke-width="1.1"/>
<rect x="434.65" y="96.60" width="7.70" height="42.80" rx="2" ry="2" fill="rgba(0,255,0,0.5)" stroke="#00ff00" stroke-width="1.1"/>
<rect x="450.45" y="96.60" width="8.90" height="42.80" rx="2" ry="2" fill="rgba(0,255,0,0.5)" stroke="#00ff00" stroke-width="1.1"/>
<rect x="459.65" y="96.60" width="1.90" height="42.80" rx="2" ry="2" fill="#00ff00" stroke="#00ff00" stroke-width="1.1"/>
<rect x="462.25" y="96.60" width="1.10" height="42.80" rx="2" ry="2" fill="rgba(0,255,0,0.5)" stroke="#00ff00" stroke-width="1.1"/>
<rect x="464.65" y="96.60" width="11.20" height="42.80" rx="2" ry="2" fill="rgba(0,255,0,0.5)" stroke="#00ff00" stroke-width="1.1"/>
<rect x="477.15" y="96.60" width="2.40" height="42.80" rx="2" ry="2" fill="rgba(0,255,0,0.5)" stroke="#00ff00" stroke-width="1.1"/>
<rect x="480.85" y="96.60" width="2.40" height="42.80" rx="2" ry="2" fill="rgba(0,255,0,0.5)" stroke="#00ff00" stroke-width="1.1"/>
<rect x="484.45" y="96.60" width="9.80" height="42.80" rx="2" ry="2" fill="rgba(0,255,0,0.5)" stroke="#00ff00" stroke-width="1.1"/>
<rect x="495.55" y="96.60" width="4.30" height="42.80" rx="2" ry="2" fill="rgba(0,255,0,0.5)" stroke="#00ff00" stroke-width="1.1"/>
<rect x="501.05" y="96.60" width="13.50" height="42.80" rx="2" ry="2" fill="rgba(0,255,0,0.5)" stroke="#00ff00" stroke-width="1.1"/>
<rect x="515.25" y="96.60" width="1.10" height="42.80" rx="2" ry="2" fill="rgba(0,255,0,0.5)" stroke="#00ff00" stroke-width="1.1"/>
<rect x="527.75" y="96.60" width="5.60" height="42.80" rx="2" ry="2" fill="#00ff00" stroke="#00ff00" stroke-width="1.1"/>
<rect x="534.05" y="96.60" width="45.80" height="42.80" rx="2" ry="2" fill="rgba(0,255,0,0.5)" stroke="#00ff00" stroke-width="1.1"/>
<rect x="581.15" y="96.60" width="4.30" height="42.80" rx="2" ry="2" fill="rgba(0,255,0,0.5)" stroke="#00ff00" stroke-width="1.1"/>
<rect x="587.05" y="96.60" width="8.10" height="42.80" rx="2" ry="2" fill="rgba(0,255,0,0.5)" stroke="#00ff00" stroke-width="1.1"/>
<rect x="596.25" y="96.60" width="2.00" height="42.80" rx="2" ry="2" fill="#00ff00" stroke="#00ff00" stroke-width="1.1"/>
<rect x="600.25" y="96.60" width="4.50" height="42.80" rx="2" ry="2" fill="#00ff00" stroke="#00ff00" stroke-width="1.1"/>
<rect x="606.35" y="96.60" width="6.70" height="42.80" rx="2" ry="2" fill="rgba(0,255,0,0.5)" stroke="#00ff00" stroke-width="1.1"/>
<rect x="616.15" y="96.60" width="17.70" height="42.80" rx="2" ry="2" fill="rgba(0,255,0,0.5)" stroke="#00ff00" stroke-width="1.1"/>
<rect x="635.15" y="96.60" width="13.90" height="42.80" rx="2" ry="2" fill="rgba(0,255,0,0.5)" stroke="#00ff00" stroke-width="1.1"/>
<rect x="650.15" y="96.60" width="3.90" height="42.80" rx="2" ry="2" fill="rgba(0,255,0,0.5)" stroke="#00ff00" stroke-width="1.1"/>
<rect x="654.75" y="96.60" width="2.10" height="42.80" rx="2" ry="2" fill="rgba(0,255,0,0.5)" stroke="#00ff00" stroke-width="1.1"/>
<rect x="657.95" y="96.60" width="6.20" height="42.80" rx="2" ry="2" fill="rgba(0,255,0,0.5)" stroke="#00ff00" stroke-width="1.1"/>
<rect x="667.95" y="96.60" width="3.50" height="42.80" rx="2" ry="2" fill="rgba(0,255,0,0.5)" stroke="#00ff00" stroke-width="1.1"/>
<rect x="680.55" y="96.60" width="4.90" height="42.80" rx="2" ry="2" fill="rgba(0,255,0,0.5)" stroke="#00ff00" stroke-width="1.1"/>
<rect x="681.85" y="96.60" width="2.30" height="42.80" rx="2" ry="2" fill="#00ff00" stroke="#00ff00" stroke-width="1.1"/>
<rect x="686.15" y="96.60" width="4.10" height="42.80" rx="2" ry="2" fill="rgba(0,255,0,0.5)" stroke="#00ff00" stroke-width="1.1"/>
<rect x="691.65" y="96.60" width="6.40" height="42.80" rx="2" ry="2" fill="rgba(0,255,0,0.5)" stroke="#00ff00" stroke-width="1.1"/>
<rect x="698.75" y="96.60" width="2.00" height="42.80" rx="2" ry="2" fill="rgba(0,255,0,0.5)" stroke="#00ff00" stroke-width="1.1"/>
<rect x="702.05" y="96.60" width="14.40" height="42.80" rx="2" ry="2" fill="rgba(0,255,0,0.5)" stroke="#00ff00" stroke-width="1.1"/>
<rect x="717.75" y="96.60" width="7.00" height="42.80" rx="2" ry="2" fill="rgba(0,255,0,0.5)" stroke="#00ff00" stroke-width="1.1"/>
<rect x="726.15" y="96.60" width="16.40" height="42.80" rx="2" ry="2" fill="rgba(0,255,0,0.5)" stroke="#00ff00" stroke-width="1.1"/>
<rect x="754.15" y="96.60" width="2.00" height="42.80" rx="2" ry="2" fill="rgba(0,255,0,0.5)" stroke="#00ff00" stroke-width="1.1"/>
<rect x="756.85" y="96.60" width="2.50" height="42.80" rx="2" ry="2" fill="rgba(0,255,0,0.5)" stroke="#00ff00" stroke-width="1.1"/>
<rect x="760.45" y="96.60" width="12.50" height="42.80" rx="2" ry="2" fill="rgba(0,255,0,0.5)" stroke="#00ff00" stroke-width="1.1"/>
<rect x="774.25" y="96.60" width="13.30" height="42.80" rx="2" ry="2" fill="rgba(0,255,0,0.5)" stroke="#00ff00" stroke-width="1.1"/>
<rect x="788.85" y="96.60" width="3.50" height="42.80" rx="2" ry="2" fill="rgba(0,255,0,0.5)" stroke="#00ff00" stroke-width="1.1"/>
<rect x="794.55" y="96.60" width="2.00" height="42.80" rx="2" ry="2" fill="#00ff00" stroke="#00ff00" stroke-width="1.1"/>
<rect x="800.35" y="96.60" width="5.60" height="42.80" rx="2" ry="2" fill="#00ff00" stroke="#00ff00" stroke-width="1.1"/>
<rect x="806.65" y="96.60" width="1.80" height="42.80" rx="2" ry="2" fill="rgba(0,255,0,0.5)" stroke="#00ff00" stroke-width="1.1"/>
<rect x="809.55" y="96.60" width="9.40" height="42.80" rx="2" ry="2" fill="rgba(0,255,0,0.5)" stroke="#00ff00" stroke-width="1.1"/>
<rect x="819.65" y="96.60" width="2.40" height="42.80" rx="2" ry="2" fill="#00ff00" stroke="#00ff00" stroke-width="1.1"/>
<rect x="822.75" y="96.60" width="2.50" height="42.80" rx="2" ry="2" fill="rgba(0,255,0,0.5)" stroke="#00ff00" stroke-width="1.1"/>
<rect x="826.35" y="96.60" width="17.10" height="42.80" rx="2" ry="2" fill="rgba(0,255,0,0.5)" stroke="#00ff00" stroke-width="1.1"/>
<rect x="857.75" y="96.60" width="0.90" height="42.80" rx="2" ry="2" fill="rgba(0,255,0,0.5)" stroke="#00ff00" stroke-width="1.1"/>
<rect x="859.85" y="96.60" width="0.90" height="42.80" rx="2" ry="2" fill="rgba(0,255,0,0.5)" stroke="#00ff00" stroke-width="1.1"/>
<rect x="862.55" y="96.60" width="7.60" height="42.80" rx="2" ry="2" fill="rgba(0,255,0,0.5)" stroke="#00ff00" stroke-width="1.1"/>
<rect x="870.85" y="96.60" width="5.80" height="42.80" rx="2" ry="2" fill="rgba(0,255,0,0.5)" stroke="#00ff00" stroke-width="1.1"/>
<rect x="21.65" y="143.50" width="8.50" height="42.90" rx="2" ry="2" fill="rgba(255,0,0,0.5)" stroke="#ff0a0a" stroke-width="1.1"/>
<rect x="33.55" y="143.50" width="3.00" height="42.90" rx="2" ry="2" fill="#ff0000" stroke="#ff0000" stroke-width="1.1"/>
<rect x="64.85" y="143.50" width="1.20" height="42.90" rx="2" ry="2" fill="rgba(255,0,0,0.5)" stroke="#ff0a0a" stroke-width="1.1"/>
<rect x="66.75" y="143.50" width="4.80" height="42.90" rx="2" ry="2" fill="#00ff00" stroke="#00ff00" stroke-width="1.1"/>
<rect x="72.25" y="143.50" width="3.00" height="42.90" rx="2" ry="2" fill="rgba(0,255,0,0.5)" stroke="#00ff00" stroke-width="1.1"/>
<rect x="80.85" y="143.50" width="2.30" height="42.90" rx="2" ry="2" fill="rgba(0,255,0,0.5)" stroke="#00ff00" stroke-width="1.1"/>
<rect x="83.85" y="143.50" width="1.10" height="42.90" rx="2" ry="2" fill="rgba(0,255,0,0.5)" stroke="#00ff00" stroke-width="1.1"/>
<rect x="85.65" y="143.50" width="3.00" height="42.90" rx="2" ry="2" fill="rgba(170,255,0,0.6)" stroke="#b4ff00" stroke-width="1.1"/>
<rect x="89.75" y="143.50" width="2.00" height="42.90" rx="2" ry="2" fill="rgba(255,0,0,0.5)" stroke="#ff0a0a" stroke-width="1.1"/>
<rect x="92.85" y="143.50" width="7.20" height="42.90" rx="2" ry="2" fill="rgba(255,0,0,0.5)" stroke="#ff0a0a" stroke-width="1.1"/>
<rect x="106.25" y="143.50" width="2.10" height="42.90" rx="2" ry="2" fill="rgba(255,0,0,0.5)" stroke="#ff0a0a" stroke-width="1.1"/>
<rect x="109.05" y="143.50" width="14.00" height="42.90" rx="2" ry="2" fill="rgba(0,255,0,0.5)" stroke="#00ff00" stroke-width="1.1"/>
<rect x="124.35" y="143.50" width="1.50" height="42.90" rx="2" ry="2" fill="rgba(0,255,0,0.5)" stroke="#00ff00" stroke-width="1.1"/>
<rect x="127.05" y="143.50" width="10.80" height="42.90" rx="2" ry="2" fill="rgba(0,255,0,0.5)" stroke="#00ff00" stroke-width="1.1"/>
<rect x="139.05" y="143.50" width="3.40" height="42.90" rx="2" ry="2" fill="#00ff00" stroke="#00ff00" stroke-width="1.1"/>
<rect x="143.15" y="143.50" width="5.70" height="42.90" rx="2" ry="2" fill="rgba(0,255,0,0.5)" stroke="#00ff00" stroke-width="1.1"/>
<rect x="150.05" y="143.50" width="3.00" height="42.90" rx="2" ry="2" fill="rgba(0,255,0,0.5)" stroke="#00ff00" stroke-width="1.1"/>
<rect x="154.15" y="143.50" width="2.60" height="42.90" rx="2" ry="2" fill="rgba(0,255,0,0.5)" stroke="#00ff00" stroke-width="1.1"/>
<rect x="172.15" y="143.50" width="5.60" height="42.90" rx="2" ry="2" fill="rgba(0,255,0,0.5)" stroke="#00ff00" stroke-width="1.1"/>
<rect x="188.55" y="143.50" width="2.60" height="42.90" rx="2" ry="2" fill="rgba(0,255,0,0.5)" stroke="#00ff00" stroke-width="1.1"/>
<rect x="192.25" y="143.50" width="9.10" height="42.90" rx="2" ry="2" fill="rgba(0,255,0,0.5)" stroke="#00ff00" stroke-width="1.1"/>
<rect x="205.65" y="143.50" width="3.00" height="42.90" rx="2" ry="2" fill="rgba(0,255,0,0.5)" stroke="#00ff00" stroke-width="1.1"/>
<rect x="209.35" y="143.50" width="11.80" height="42.90" rx="2" ry="2" fill="rgba(0,255,0,0.5)" stroke="#00ff00" stroke-width="1.1"/>
<rect x="221.85" y="143.50" width="3.50" height="42.90" rx="2" ry="2" fill="rgba(0,255,0,0.5)" stroke="#00ff00" stroke-width="1.1"/>
<rect x="226.05" y="143.50" width="1.50" height="42.90" rx="2" ry="2" fill="rgba(0,255,0,0.5)" stroke="#00ff00" stroke-width="1.1"/>
<rect x="246.35" y="143.50" width="7.60" height="42.90" rx="2" ry="2" fill="rgba(0,255,0,0.5)" stroke="#000" stroke-width="1.9"/>
<rect x="254.85" y="143.50" width="1.00" height="42.90" rx="2" ry="2" fill="rgba(0,255,0,0.5)" stroke="#000" stroke-width="1.9"/>
<rect x="256.85" y="143.50" width="1.10" height="42.90" rx="2" ry="2" fill="rgba(0,255,0,0.5)" stroke="#000" stroke-width="1.9"/>
<rect x="258.85" y="143.50" width="2.40" height="42.90" rx="2" ry="2" fill="rgba(0,255,0,0.5)" stroke="#000" stroke-width="1.9"/>
<rect x="276.75" y="143.50" width="12.70" height="42.90" rx="2" ry="2" fill="rgba(0,255,0,0.5)" stroke="#00ff00" stroke-width="1.1"/>
<rect x="293.65" y="143.50" width="14.60" height="42.90" rx="2" ry="2" fill="rgba(0,255,0,0.5)" stroke="#00ff00" stroke-width="1.1"/>
<rect x="314.85" y="143.50" width="0.80" height="42.90" rx="2" ry="2" fill="rgba(0,255,0,0.5)" stroke="#000" stroke-width="1.9"/>
<rect x="316.15" y="143.50" width="1.00" height="42.90" rx="2" ry="2" fill="rgba(0,255,0,0.5)" stroke="#000" stroke-width="1.9"/>
<rect x="317.65" y="143.50" width="1.00" height="42.90" rx="2" ry="2" fill="rgba(0,255,0,0.5)" stroke="#000" stroke-width="1.9"/>
<rect x="319.15" y="143.50" width="1.00" height="42.90" rx="2" ry="2" fill="rgba(0,255,0,0.5)" stroke="#000" stroke-width="1.9"/>
<rect x="320.65" y="143.50" width="1.00" height="42.90" rx="2" ry="2" fill="rgba(0,255,0,0.5)" stroke="#000" stroke-width="1.9"/>
<rect x="322.15" y="143.50" width="1.70" height="42.90" rx="2" ry="2" fill="rgba(0,255,0,0.5)" stroke="#000" stroke-width="1.9"/>
<rect x="315.35" y="143.50" width="7.80" height="42.90" rx="2" ry="2" fill="#000" stroke="#000" stroke-width="1.1"/>
<rect x="324.05" y="143.50" width="2.20" height="42.90" rx="2" ry="2" fill="rgba(0,255,0,0.5)" stroke="#000" stroke-width="1.9"/>
<rect x="349.05" y="143.50" width="7.00" height="42.90" rx="2" ry="2" fill="rgba(0,255,0,0.5)" stroke="#00ff00" stroke-width="1.1"/>
<rect x="356.75" y="143.50" width="3.90" height="42.90" rx="2" ry="2" fill="#00ff00" stroke="#00ff00" stroke-width="1.1"/>
<rect x="361.35" y="143.50" width="3.00" height="42.90" rx="2" ry="2" fill="rgba(0,255,0,0.5)" stroke="#000" stroke-width="1.9"/>
<rect x="365.05" y="143.50" width="14.00" height="42.90" rx="2" ry="2" fill="rgba(0,255,0,0.5)" stroke="#00ff00" stroke-width="1.1"/>
<rect x="389.55" y="143.50" width="4.30" height="42.90" rx="2" ry="2" fill="rgba(0,255,0,0.5)" stroke="#00ff00" stroke-width="1.1"/>
<rect x="395.05" y="143.50" width="3.00" height="42.90" rx="2" ry="2" fill="rgba(0,255,0,0.5)" stroke="#00ff00" stroke-width="1.1"/>
<rect x="428.35" y="143.50" width="5.20" height="42.90" rx="2" ry="2" fill="rgba(0,255,0,0.5)" stroke="#00ff00" stroke-width="1.1"/>
<rect x="434.65" y="143.50" width="7.20" height="42.90" rx="2" ry="2" fill="rgba(0,255,0,0.5)" stroke="#00ff00" stroke-width="1.1"/>
<rect x="443.05" y="143.50" width="9.40" height="42.90" rx="2" ry="2" fill="rgba(0,255,0,0.5)" stroke="#00ff00" stroke-width="1.1"/>
<rect x="484.35" y="143.50" width="9.90" height="42.90" rx="2" ry="2" fill="rgba(0,255,0,0.5)" stroke="#00ff00" stroke-width="1.1"/>
<rect x="494.65" y="143.50" width="0.60" height="42.90" rx="2" ry="2" fill="rgba(0,255,0,0.5)" stroke="#00ff00" stroke-width="1.1"/>
<rect x="500.55" y="143.50" width="14.00" height="42.90" rx="2" ry="2" fill="rgba(0,255,0,0.5)" stroke="#00ff00" stroke-width="1.1"/>
<rect x="516.15" y="143.50" width="5.40" height="42.90" rx="2" ry="2" fill="rgba(0,255,0,0.5)" stroke="#00ff00" stroke-width="1.1"/>
<rect x="528.15" y="143.50" width="0.60" height="42.90" rx="2" ry="2" fill="rgba(0,255,0,0.5)" stroke="#00ff00" stroke-width="1.1"/>
<rect x="580.55" y="143.50" width="1.70" height="42.90" rx="2" ry="2" fill="rgba(0,255,0,0.5)" stroke="#00ff00" stroke-width="1.1"/>
<rect x="582.95" y="143.50" width="2.80" height="42.90" rx="2" ry="2" fill="rgba(0,255,0,0.5)" stroke="#00ff00" stroke-width="1.1"/>
<rect x="587.05" y="143.50" width="8.50" height="42.90" rx="2" ry="2" fill="rgba(0,255,0,0.5)" stroke="#00ff00" stroke-width="1.1"/>
<rect x="596.75" y="143.50" width="1.60" height="42.90" rx="2" ry="2" fill="#00ff00" stroke="#00ff00" stroke-width="1.1"/>
<rect x="599.05" y="143.50" width="2.90" height="42.90" rx="2" ry="2" fill="rgba(0,255,0,0.5)" stroke="#00ff00" stroke-width="1.1"/>
<rect x="606.35" y="143.50" width="7.00" height="42.90" rx="2" ry="2" fill="rgba(0,255,0,0.5)" stroke="#00ff00" stroke-width="1.1"/>
<rect x="634.45" y="143.50" width="14.60" height="42.90" rx="2" ry="2" fill="rgba(0,255,0,0.5)" stroke="#00ff00" stroke-width="1.1"/>
<rect x="654.35" y="143.50" width="2.50" height="42.90" rx="2" ry="2" fill="rgba(0,255,0,0.5)" stroke="#00ff00" stroke-width="1.1"/>
<rect x="657.95" y="143.50" width="5.80" height="42.90" rx="2" ry="2" fill="rgba(0,255,0,0.5)" stroke="#00ff00" stroke-width="1.1"/>
<rect x="665.25" y="143.50" width="9.30" height="42.90" rx="2" ry="2" fill="rgba(0,255,0,0.5)" stroke="#00ff00" stroke-width="1.1"/>
<rect x="680.55" y="143.50" width="1.80" height="42.90" rx="2" ry="2" fill="rgba(0,255,0,0.5)" stroke="#00ff00" stroke-width="1.1"/>
<rect x="689.95" y="143.50" width="8.70" height="42.90" rx="2" ry="2" fill="rgba(0,255,0,0.5)" stroke="#00ff00" stroke-width="1.1"/>
<rect x="717.15" y="143.50" width="8.10" height="42.90" rx="2" ry="2" fill="rgba(0,255,0,0.5)" stroke="#00ff00" stroke-width="1.1"/>
<rect x="733.45" y="143.50" width="5.60" height="42.90" rx="2" ry="2" fill="rgba(0,255,0,0.5)" stroke="#00ff00" stroke-width="1.1"/>
<rect x="740.15" y="143.50" width="12.90" height="42.90" rx="2" ry="2" fill="rgba(0,255,0,0.5)" stroke="#00ff00" stroke-width="1.1"/>
<rect x="754.35" y="143.50" width="1.40" height="42.90" rx="2" ry="2" fill="rgba(0,255,0,0.5)" stroke="#00ff00" stroke-width="1.1"/>
<rect x="756.85" y="143.50" width="1.80" height="42.90" rx="2" ry="2" fill="rgba(0,255,0,0.5)" stroke="#00ff00" stroke-width="1.1"/>
<rect x="760.05" y="143.50" width="13.30" height="42.90" rx="2" ry="2" fill="rgba(0,255,0,0.5)" stroke="#00ff00" stroke-width="1.1"/>
<rect x="788.65" y="143.50" width="3.50" height="42.90" rx="2" ry="2" fill="rgba(0,255,0,0.5)" stroke="#00ff00" stroke-width="1.1"/>
<rect x="794.95" y="143.50" width="1.00" height="42.90" rx="2" ry="2" fill="rgba(0,255,0,0.5)" stroke="#00ff00" stroke-width="1.1"/>
<rect x="802.45" y="143.50" width="6.00" height="42.90" rx="2" ry="2" fill="rgba(0,255,0,0.5)" stroke="#00ff00" stroke-width="1.1"/>
<rect x="809.55" y="143.50" width="9.40" height="42.90" rx="2" ry="2" fill="rgba(0,255,0,0.5)" stroke="#00ff00" stroke-width="1.1"/>
<rect x="820.05" y="143.50" width="4.10" height="42.90" rx="2" ry="2" fill="rgba(0,255,0,0.5)" stroke="#00ff00" stroke-width="1.1"/>
<rect x="825.95" y="143.50" width="17.50" height="42.90" rx="2" ry="2" fill="rgba(0,255,0,0.5)" stroke="#00ff00" stroke-width="1.1"/>
<rect x="36.45" y="190.50" width="30.00" height="46.00" rx="2" ry="2" fill="rgba(255,0,0,0.5)" stroke="#ff0a0a" stroke-width="1.1"/>
<rect x="70.35" y="190.50" width="3.10" height="46.00" rx="2" ry="2" fill="rgba(255,0,0,0.5)" stroke="#ff0a0a" stroke-width="1.1"/>
<rect x="75.45" y="190.50" width="4.30" height="46.00" rx="2" ry="2" fill="rgba(0,255,0,0.5)" stroke="#00ff00" stroke-width="1.1"/>
<rect x="80.45" y="190.50" width="4.30" height="46.00" rx="2" ry="2" fill="rgba(255,0,0,0.5)" stroke="#ff0a0a" stroke-width="1.1"/>
<rect x="85.45" y="190.50" width="4.80" height="46.00" rx="2" ry="2" fill="rgba(170,255,0,0.6)" stroke="#b4ff00" stroke-width="1.1"/>
<rect x="132.65" y="190.50" width="5.30" height="46.00" rx="2" ry="2" fill="rgba(0,255,0,0.5)" stroke="#00ff00" stroke-width="1.1"/>
<rect x="138.65" y="190.50" width="11.90" height="46.00" rx="2" ry="2" fill="rgba(0,255,0,0.5)" stroke="#00ff00" stroke-width="1.1"/>
<rect x="151.25" y="190.50" width="4.60" height="46.00" rx="2" ry="2" fill="rgba(0,255,0,0.5)" stroke="#00ff00" stroke-width="1.1"/>
<rect x="202.75" y="190.50" width="16.30" height="46.00" rx="2" ry="2" fill="rgba(0,255,0,0.5)" stroke="#00ff00" stroke-width="1.1"/>
<rect x="219.75" y="190.50" width="4.40" height="46.00" rx="2" ry="2" fill="rgba(0,255,0,0.5)" stroke="#00ff00" stroke-width="1.1"/>
<rect x="287.55" y="190.50" width="5.10" height="46.00" rx="2" ry="2" fill="rgba(0,255,0,0.5)" stroke="#000" stroke-width="1.9"/>
<rect x="293.35" y="190.50" width="3.10" height="46.00" rx="2" ry="2" fill="rgba(0,255,0,0.5)" stroke="#00ff00" stroke-width="1.1"/>
<rect x="297.65" y="190.50" width="10.10" height="46.00" rx="2" ry="2" fill="rgba(0,255,0,0.5)" stroke="#000" stroke-width="1.9"/>
<rect x="365.35" y="190.50" width="11.20" height="46.00" rx="2" ry="2" fill="rgba(0,255,0,0.5)" stroke="#000" stroke-width="1.9"/>
<rect x="441.95" y="190.50" width="4.90" height="46.00" rx="2" ry="2" fill="rgba(0,255,0,0.5)" stroke="#00ff00" stroke-width="1.1"/>
<rect x="447.55" y="190.50" width="4.50" height="46.00" rx="2" ry="2" fill="rgba(0,255,0,0.5)" stroke="#00ff00" stroke-width="1.1"/>
<rect x="496.75" y="190.50" width="6.10" height="46.00" rx="2" ry="2" fill="rgba(0,255,0,0.5)" stroke="#00ff00" stroke-width="1.1"/>
<rect x="503.55" y="190.50" width="12.30" height="46.00" rx="2" ry="2" fill="rgba(0,255,0,0.5)" stroke="#00ff00" stroke-width="1.1"/>
<rect x="516.55" y="190.50" width="4.30" height="46.00" rx="2" ry="2" fill="rgba(0,255,0,0.5)" stroke="#00ff00" stroke-width="1.1"/>
<rect x="582.15" y="190.50" width="5.50" height="46.00" rx="2" ry="2" fill="rgba(0,255,0,0.5)" stroke="#00ff00" stroke-width="1.1"/>
<rect x="588.35" y="190.50" width="7.90" height="46.00" rx="2" ry="2" fill="rgba(0,255,0,0.5)" stroke="#00ff00" stroke-width="1.1"/>
<rect x="596.95" y="190.50" width="4.30" height="46.00" rx="2" ry="2" fill="rgba(0,255,0,0.5)" stroke="#00ff00" stroke-width="1.1"/>
<rect x="670.45" y="190.50" width="3.10" height="46.00" rx="2" ry="2" fill="rgba(0,255,0,0.5)" stroke="#00ff00" stroke-width="1.1"/>
<rect x="674.25" y="190.50" width="8.10" height="46.00" rx="2" ry="2" fill="rgba(0,255,0,0.5)" stroke="#00ff00" stroke-width="1.1"/>
<rect x="743.25" y="190.50" width="10.60" height="46.00" rx="2" ry="2" fill="rgba(0,255,0,0.5)" stroke="#00ff00" stroke-width="1.1"/>
<rect x="754.55" y="190.50" width="1.30" height="46.00" rx="2" ry="2" fill="rgba(0,255,0,0.5)" stroke="#00ff00" stroke-width="1.1"/>
<rect x="792.75" y="190.50" width="3.10" height="46.00" rx="2" ry="2" fill="rgba(0,255,0,0.5)" stroke="#00ff00" stroke-width="1.1"/>
<rect x="811.05" y="190.50" width="9.40" height="46.00" rx="2" ry="2" fill="rgba(0,255,0,0.5)" stroke="#00ff00" stroke-width="1.1"/>
<rect x="821.15" y="190.50" width="3.00" height="46.00" rx="2" ry="2" fill="rgba(0,255,0,0.5)" stroke="#00ff00" stroke-width="1.1"/>
<rect x="824.85" y="190.50" width="2.30" height="46.00" rx="2" ry="2" fill="rgba(0,255,0,0.5)" stroke="#00ff00" stroke-width="1.1"/>
<rect x="0" y="46.80" width="873" height="1.2" fill="#000"/>
<rect x="0" y="93.80" width="873" height="1.2" fill="#000"/>
<rect x="0" y="140.70" width="873" height="1.2" fill="#000"/>
<rect x="0" y="187.70" width="873" height="1.2" fill="#000"/>
</svg>
<svg style="position:absolute;left:72.3px;top:170px" width="30" height="30" viewBox="-15 -15 30 30"><g transform="translate(-0.5 0.3) scale(0.95)"><path d="M2.97 -0.94 L2.97 1.54 L1.54 1.49 L1.11 2.53 L2.16 3.50 L0.40 5.26 L-0.57 4.21 L-1.61 4.64 L-1.56 6.07 L-4.04 6.07 L-3.99 4.64 L-5.03 4.21 L-6.00 5.26 L-7.76 3.50 L-6.71 2.53 L-7.14 1.49 L-8.57 1.54 L-8.57 -0.94 L-7.14 -0.89 L-6.71 -1.93 L-7.76 -2.90 L-6.00 -4.66 L-5.03 -3.61 L-3.99 -4.04 L-4.04 -5.47 L-1.56 -5.47 L-1.61 -4.04 L-0.57 -3.61 L0.40 -4.66 L2.16 -2.90 L1.11 -1.93 L1.54 -0.89 Z M-4.80 0.30 a2.00 2.00 0 1 0 4.00 0 a2.00 2.00 0 1 0 -4.00 0 ZM8.71 -5.17 L8.71 -3.63 L7.89 -3.68 L7.59 -3.06 L8.14 -2.45 L6.94 -1.49 L6.46 -2.16 L5.79 -2.01 L5.66 -1.20 L4.16 -1.54 L4.39 -2.33 L3.85 -2.76 L3.13 -2.36 L2.47 -3.74 L3.22 -4.06 L3.22 -4.74 L2.47 -5.06 L3.13 -6.44 L3.85 -6.04 L4.39 -6.47 L4.16 -7.26 L5.66 -7.60 L5.79 -6.79 L6.46 -6.64 L6.94 -7.31 L8.14 -6.35 L7.59 -5.74 L7.89 -5.12 Z M4.60 -4.40 a1.00 1.00 0 1 0 2.00 0 a1.00 1.00 0 1 0 -2.00 0 ZM8.71 4.23 L8.71 5.77 L7.89 5.72 L7.59 6.34 L8.14 6.95 L6.94 7.91 L6.46 7.24 L5.79 7.39 L5.66 8.20 L4.16 7.86 L4.39 7.07 L3.85 6.64 L3.13 7.04 L2.47 5.66 L3.22 5.34 L3.22 4.66 L2.47 4.34 L3.13 2.96 L3.85 3.36 L4.39 2.93 L4.16 2.14 L5.66 1.80 L5.79 2.61 L6.46 2.76 L6.94 2.09 L8.14 3.05 L7.59 3.66 L7.89 4.28 Z M4.60 5.00 a1.00 1.00 0 1 0 2.00 0 a1.00 1.00 0 1 0 -2.00 0 Z" fill="#555" fill-rule="evenodd"/></g><circle cx="0" cy="0" r="12.05" fill="none" stroke="#ae2b3b" stroke-width="3.7"/><line x1="-8.3" y1="8.3" x2="8.3" y2="-8.3" stroke="#ae2b3b" stroke-width="3.6"/></svg>
<div class="rl" style="left:107px;top:175px">assembly line</div>
<svg style="position:absolute;left:189.2px;top:180px" width="6" height="10" viewBox="0 0 6 10"><path d="M0.6 1.2 L5 5 L0.6 8.8 Z" fill="#555"/></svg>
<svg style="position:absolute;left:90px;top:217px" width="30" height="30" viewBox="-15 -15 30 30"><g transform="translate(-0.5 0.3) scale(0.95)"><path d="M2.97 -0.94 L2.97 1.54 L1.54 1.49 L1.11 2.53 L2.16 3.50 L0.40 5.26 L-0.57 4.21 L-1.61 4.64 L-1.56 6.07 L-4.04 6.07 L-3.99 4.64 L-5.03 4.21 L-6.00 5.26 L-7.76 3.50 L-6.71 2.53 L-7.14 1.49 L-8.57 1.54 L-8.57 -0.94 L-7.14 -0.89 L-6.71 -1.93 L-7.76 -2.90 L-6.00 -4.66 L-5.03 -3.61 L-3.99 -4.04 L-4.04 -5.47 L-1.56 -5.47 L-1.61 -4.04 L-0.57 -3.61 L0.40 -4.66 L2.16 -2.90 L1.11 -1.93 L1.54 -0.89 Z M-4.80 0.30 a2.00 2.00 0 1 0 4.00 0 a2.00 2.00 0 1 0 -4.00 0 ZM8.71 -5.17 L8.71 -3.63 L7.89 -3.68 L7.59 -3.06 L8.14 -2.45 L6.94 -1.49 L6.46 -2.16 L5.79 -2.01 L5.66 -1.20 L4.16 -1.54 L4.39 -2.33 L3.85 -2.76 L3.13 -2.36 L2.47 -3.74 L3.22 -4.06 L3.22 -4.74 L2.47 -5.06 L3.13 -6.44 L3.85 -6.04 L4.39 -6.47 L4.16 -7.26 L5.66 -7.60 L5.79 -6.79 L6.46 -6.64 L6.94 -7.31 L8.14 -6.35 L7.59 -5.74 L7.89 -5.12 Z M4.60 -4.40 a1.00 1.00 0 1 0 2.00 0 a1.00 1.00 0 1 0 -2.00 0 ZM8.71 4.23 L8.71 5.77 L7.89 5.72 L7.59 6.34 L8.14 6.95 L6.94 7.91 L6.46 7.24 L5.79 7.39 L5.66 8.20 L4.16 7.86 L4.39 7.07 L3.85 6.64 L3.13 7.04 L2.47 5.66 L3.22 5.34 L3.22 4.66 L2.47 4.34 L3.13 2.96 L3.85 3.36 L4.39 2.93 L4.16 2.14 L5.66 1.80 L5.79 2.61 L6.46 2.76 L6.94 2.09 L8.14 3.05 L7.59 3.66 L7.89 4.28 Z M4.60 5.00 a1.00 1.00 0 1 0 2.00 0 a1.00 1.00 0 1 0 -2.00 0 Z" fill="#555" fill-rule="evenodd"/></g><circle cx="0" cy="0" r="12.05" fill="none" stroke="#ae2b3b" stroke-width="3.7"/><line x1="-8.3" y1="8.3" x2="8.3" y2="-8.3" stroke="#ae2b3b" stroke-width="3.6"/></svg>
<div class="rl" style="left:124.3px;top:222px"><span style="letter-spacing:0.25px">grinder</span></div>
<svg style="position:absolute;left:171.5px;top:227px" width="6" height="10" viewBox="0 0 6 10"><path d="M0.6 1.2 L5 5 L0.6 8.8 Z" fill="#555"/></svg>
<svg style="position:absolute;left:102.5px;top:267.5px" width="24" height="24" viewBox="-12 -12 24 24"><g transform="translate(0 0) scale(1)"><path d="M2.97 -0.94 L2.97 1.54 L1.54 1.49 L1.11 2.53 L2.16 3.50 L0.40 5.26 L-0.57 4.21 L-1.61 4.64 L-1.56 6.07 L-4.04 6.07 L-3.99 4.64 L-5.03 4.21 L-6.00 5.26 L-7.76 3.50 L-6.71 2.53 L-7.14 1.49 L-8.57 1.54 L-8.57 -0.94 L-7.14 -0.89 L-6.71 -1.93 L-7.76 -2.90 L-6.00 -4.66 L-5.03 -3.61 L-3.99 -4.04 L-4.04 -5.47 L-1.56 -5.47 L-1.61 -4.04 L-0.57 -3.61 L0.40 -4.66 L2.16 -2.90 L1.11 -1.93 L1.54 -0.89 Z M-4.80 0.30 a2.00 2.00 0 1 0 4.00 0 a2.00 2.00 0 1 0 -4.00 0 ZM8.71 -5.17 L8.71 -3.63 L7.89 -3.68 L7.59 -3.06 L8.14 -2.45 L6.94 -1.49 L6.46 -2.16 L5.79 -2.01 L5.66 -1.20 L4.16 -1.54 L4.39 -2.33 L3.85 -2.76 L3.13 -2.36 L2.47 -3.74 L3.22 -4.06 L3.22 -4.74 L2.47 -5.06 L3.13 -6.44 L3.85 -6.04 L4.39 -6.47 L4.16 -7.26 L5.66 -7.60 L5.79 -6.79 L6.46 -6.64 L6.94 -7.31 L8.14 -6.35 L7.59 -5.74 L7.89 -5.12 Z M4.60 -4.40 a1.00 1.00 0 1 0 2.00 0 a1.00 1.00 0 1 0 -2.00 0 ZM8.71 4.23 L8.71 5.77 L7.89 5.72 L7.59 6.34 L8.14 6.95 L6.94 7.91 L6.46 7.24 L5.79 7.39 L5.66 8.20 L4.16 7.86 L4.39 7.07 L3.85 6.64 L3.13 7.04 L2.47 5.66 L3.22 5.34 L3.22 4.66 L2.47 4.34 L3.13 2.96 L3.85 3.36 L4.39 2.93 L4.16 2.14 L5.66 1.80 L5.79 2.61 L6.46 2.76 L6.94 2.09 L8.14 3.05 L7.59 3.66 L7.89 4.28 Z M4.60 5.00 a1.00 1.00 0 1 0 2.00 0 a1.00 1.00 0 1 0 -2.00 0 Z" fill="#555" fill-rule="evenodd"/></g></svg>
<div class="rl" style="left:134.2px;top:269px"><span style="letter-spacing:-0.3px">saw</span></div>
<svg style="position:absolute;left:161.8px;top:274px" width="6" height="10" viewBox="0 0 6 10"><path d="M0.6 1.2 L5 5 L0.6 8.8 Z" fill="#555"/></svg>
<svg style="position:absolute;left:102.5px;top:314.5px" width="24" height="24" viewBox="-12 -12 24 24"><g transform="translate(0 0) scale(1)"><path d="M2.97 -0.94 L2.97 1.54 L1.54 1.49 L1.11 2.53 L2.16 3.50 L0.40 5.26 L-0.57 4.21 L-1.61 4.64 L-1.56 6.07 L-4.04 6.07 L-3.99 4.64 L-5.03 4.21 L-6.00 5.26 L-7.76 3.50 L-6.71 2.53 L-7.14 1.49 L-8.57 1.54 L-8.57 -0.94 L-7.14 -0.89 L-6.71 -1.93 L-7.76 -2.90 L-6.00 -4.66 L-5.03 -3.61 L-3.99 -4.04 L-4.04 -5.47 L-1.56 -5.47 L-1.61 -4.04 L-0.57 -3.61 L0.40 -4.66 L2.16 -2.90 L1.11 -1.93 L1.54 -0.89 Z M-4.80 0.30 a2.00 2.00 0 1 0 4.00 0 a2.00 2.00 0 1 0 -4.00 0 ZM8.71 -5.17 L8.71 -3.63 L7.89 -3.68 L7.59 -3.06 L8.14 -2.45 L6.94 -1.49 L6.46 -2.16 L5.79 -2.01 L5.66 -1.20 L4.16 -1.54 L4.39 -2.33 L3.85 -2.76 L3.13 -2.36 L2.47 -3.74 L3.22 -4.06 L3.22 -4.74 L2.47 -5.06 L3.13 -6.44 L3.85 -6.04 L4.39 -6.47 L4.16 -7.26 L5.66 -7.60 L5.79 -6.79 L6.46 -6.64 L6.94 -7.31 L8.14 -6.35 L7.59 -5.74 L7.89 -5.12 Z M4.60 -4.40 a1.00 1.00 0 1 0 2.00 0 a1.00 1.00 0 1 0 -2.00 0 ZM8.71 4.23 L8.71 5.77 L7.89 5.72 L7.59 6.34 L8.14 6.95 L6.94 7.91 L6.46 7.24 L5.79 7.39 L5.66 8.20 L4.16 7.86 L4.39 7.07 L3.85 6.64 L3.13 7.04 L2.47 5.66 L3.22 5.34 L3.22 4.66 L2.47 4.34 L3.13 2.96 L3.85 3.36 L4.39 2.93 L4.16 2.14 L5.66 1.80 L5.79 2.61 L6.46 2.76 L6.94 2.09 L8.14 3.05 L7.59 3.66 L7.89 4.28 Z M4.60 5.00 a1.00 1.00 0 1 0 2.00 0 a1.00 1.00 0 1 0 -2.00 0 Z" fill="#555" fill-rule="evenodd"/></g></svg>
<div class="rl" style="left:134.2px;top:316px">Carl</div>
<svg style="position:absolute;left:161.8px;top:321px" width="6" height="10" viewBox="0 0 6 10"><path d="M0.6 1.2 L5 5 L0.6 8.8 Z" fill="#555"/></svg>
<svg style="position:absolute;left:88.5px;top:358px" width="30" height="30" viewBox="-15 -15 30 30"><g transform="translate(-0.5 0.3) scale(0.95)"><path d="M2.97 -0.94 L2.97 1.54 L1.54 1.49 L1.11 2.53 L2.16 3.50 L0.40 5.26 L-0.57 4.21 L-1.61 4.64 L-1.56 6.07 L-4.04 6.07 L-3.99 4.64 L-5.03 4.21 L-6.00 5.26 L-7.76 3.50 L-6.71 2.53 L-7.14 1.49 L-8.57 1.54 L-8.57 -0.94 L-7.14 -0.89 L-6.71 -1.93 L-7.76 -2.90 L-6.00 -4.66 L-5.03 -3.61 L-3.99 -4.04 L-4.04 -5.47 L-1.56 -5.47 L-1.61 -4.04 L-0.57 -3.61 L0.40 -4.66 L2.16 -2.90 L1.11 -1.93 L1.54 -0.89 Z M-4.80 0.30 a2.00 2.00 0 1 0 4.00 0 a2.00 2.00 0 1 0 -4.00 0 ZM8.71 -5.17 L8.71 -3.63 L7.89 -3.68 L7.59 -3.06 L8.14 -2.45 L6.94 -1.49 L6.46 -2.16 L5.79 -2.01 L5.66 -1.20 L4.16 -1.54 L4.39 -2.33 L3.85 -2.76 L3.13 -2.36 L2.47 -3.74 L3.22 -4.06 L3.22 -4.74 L2.47 -5.06 L3.13 -6.44 L3.85 -6.04 L4.39 -6.47 L4.16 -7.26 L5.66 -7.60 L5.79 -6.79 L6.46 -6.64 L6.94 -7.31 L8.14 -6.35 L7.59 -5.74 L7.89 -5.12 Z M4.60 -4.40 a1.00 1.00 0 1 0 2.00 0 a1.00 1.00 0 1 0 -2.00 0 ZM8.71 4.23 L8.71 5.77 L7.89 5.72 L7.59 6.34 L8.14 6.95 L6.94 7.91 L6.46 7.24 L5.79 7.39 L5.66 8.20 L4.16 7.86 L4.39 7.07 L3.85 6.64 L3.13 7.04 L2.47 5.66 L3.22 5.34 L3.22 4.66 L2.47 4.34 L3.13 2.96 L3.85 3.36 L4.39 2.93 L4.16 2.14 L5.66 1.80 L5.79 2.61 L6.46 2.76 L6.94 2.09 L8.14 3.05 L7.59 3.66 L7.89 4.28 Z M4.60 5.00 a1.00 1.00 0 1 0 2.00 0 a1.00 1.00 0 1 0 -2.00 0 Z" fill="#555" fill-rule="evenodd"/></g><circle cx="0" cy="0" r="12.05" fill="none" stroke="#ae2b3b" stroke-width="3.7"/><line x1="-8.3" y1="8.3" x2="8.3" y2="-8.3" stroke="#ae2b3b" stroke-width="3.6"/></svg>
<div class="rl" style="left:122.5px;top:363px">Antonio</div>
<svg style="position:absolute;left:173px;top:368px" width="6" height="10" viewBox="0 0 6 10"><path d="M0.6 1.2 L5 5 L0.6 8.8 Z" fill="#555"/></svg>
<!-- scrollbars -->
<div class="abs" style="left:1122px;top:164px;width:21px;height:229.5px;background:#f1f1f1"></div>
<div class="abs" style="left:1124.3px;top:185.3px;width:16.6px;height:89.4px;background:#c1c1c1"></div>
<div class="abs" style="left:14px;top:393.3px;width:1108px;height:20.2px;background:#f1f1f1;border-radius:0 0 0 4px"></div>
<div class="abs" style="left:1122px;top:393.3px;width:21px;height:20.2px;background:#dcdcdc"></div>
<div class="abs" style="left:270px;top:395px;width:828.7px;height:16.9px;background:#c1c1c1"></div>

<!-- ======= splitter ======= -->
<div class="abs" style="left:572px;top:433px;width:33px;height:1px;background:#999"></div>
<div class="abs" style="left:572px;top:436px;width:33px;height:1px;background:#999"></div>
<div class="abs" style="left:572px;top:439px;width:33px;height:1px;background:#999"></div>

<!-- ======= save ======= -->
<div class="btn" style="left:14px;top:443px;width:51.3px;height:31px;line-height:30px;font-size:12.5px;letter-spacing:-0.3px">Save</div>

<!-- ======= Manufacturing order card ======= -->
<div class="card" style="left:14px;top:476.5px;width:559.6px;height:309.3px">
  <div class="ph">Manufacturing Order</div>
  <div class="t b" style="left:6px;top:32px;letter-spacing:0.25px">Name</div>
  <div class="t b" style="left:90px;top:32px;letter-spacing:-0.23px">Saw chair leg<svg class="ic" width="5" height="8" viewBox="0 0 5 8"><path d="M0.3 0.4 L4.4 4 L0.3 7.6 Z" fill="#444"/></svg></div>
  <div class="hr" style="top:56.3px"></div>
  <div class="hr" style="top:55.3px;left:466px"></div>
  <div class="t b" style="left:6px;top:61px;letter-spacing:-0.1px">Reference</div>
  <div class="t" style="left:90px;top:61px">950<svg class="ic" width="5" height="8" viewBox="0 0 5 8"><path d="M0.3 0.4 L4.4 4 L0.3 7.6 Z" fill="#555"/></svg></div>
  <div class="t b" style="left:6px;top:86px;letter-spacing:0.15px">Start</div>
  <div class="inp" style="top:87px">2021-04-16 12:40:00</div>
  <div class="t b" style="left:6px;top:124px;letter-spacing:-0.33px">Setup End</div>
  <div class="t" style="left:90px;top:124px">2021-04-16 12:40:00</div>
  <div class="t b" style="left:6px;top:149px;letter-spacing:-0.8px">End</div>
  <div class="inp" style="top:150px">2021-04-20 03:20:00</div>
  <div class="t b" style="left:6px;top:187px;letter-spacing:0.2px">Quantity</div>
  <div class="inp" style="top:188px">116</div>
  <div class="t b" style="left:6px;top:225px">Criticality</div>
  <div class="t" style="left:90px;top:225px">17.3</div>
  <div class="t b" style="left:6px;top:250px">Delay</div>
  <div class="t" style="left:90px;top:250px">-17.3</div>
  <div class="t b" style="left:6px;top:275px;letter-spacing:-0.1px">Status</div>
</div>
<div class="sm" style="left:484px;width:27px"><svg width="15.2" height="16.15" viewBox="0 0 16 17"><rect x="1.5" y="3.6" width="13" height="12" rx="1.2" fill="none" stroke="#fff" stroke-width="1.7"/><rect x="1.5" y="3.6" width="13" height="3.4" fill="#fff"/><rect x="4" y="0.6" width="2" height="4.4" rx="1" fill="#fff"/><rect x="10" y="0.6" width="2" height="4.4" rx="1" fill="#fff"/><rect x="5" y="10.2" width="6" height="1.6" fill="#fff"/><rect x="7.2" y="8" width="1.6" height="6" fill="#fff"/></svg></div>
<div class="sm" style="left:514px;width:26px"><svg width="15.2" height="16.15" viewBox="0 0 16 17"><rect x="1.5" y="3.6" width="13" height="12" rx="1.2" fill="none" stroke="#fff" stroke-width="1.7"/><rect x="1.5" y="3.6" width="13" height="3.4" fill="#fff"/><rect x="4" y="0.6" width="2" height="4.4" rx="1" fill="#fff"/><rect x="10" y="0.6" width="2" height="4.4" rx="1" fill="#fff"/><rect x="5" y="10.2" width="6" height="1.6" fill="#fff"/></svg></div>
<div class="sm" style="left:543px;width:25px"><svg width="15" height="14" viewBox="0 0 15 14"><rect x="0.9" y="1.4" width="13.2" height="11.4" rx="0.8" fill="none" stroke="#fff" stroke-width="1.5"/><rect x="0.9" y="1.4" width="13.2" height="2.2" fill="#fff"/><rect x="6.8" y="2" width="1.4" height="10" fill="#fff"/></svg></div>
<div class="sb" style="left:104px;width:79px;background:#009472;border-color:#009472;color:#fff;border-radius:4px 0 0 4px">Proposed</div>
<div class="sb" style="left:182.4px;width:80px">Approved</div>
<div class="sb" style="left:261.4px;width:84.4px">Confirmed</div>
<div class="sb" style="left:344.8px;width:87.6px">Completed</div>
<div class="sb" style="left:431.4px;width:61.4px;border-radius:0 4px 4px 0">Closed</div>

<!-- ======= tabs ======= -->
<div class="abs" style="left:839px;top:441.9px;width:75px;height:1.1px;background:#8f1f80"></div>
<div class="abs" style="left:839px;top:474.9px;width:75px;height:1.1px;background:#8f1f80"></div>
<div class="abs" style="left:914px;top:474.9px;width:249px;height:1.1px;background:#999"></div>
<div class="tab" style="left:848.5px;color:#555">Attributes</div>
<div class="tab" style="left:923.3px">Demand</div>
<div class="tab" style="left:991px;letter-spacing:-0.4px">Resource</div>
<div class="tab" style="left:1062.3px">Buffer</div>
<div class="tab" style="left:1116.3px">Colors</div>

<!-- ======= Resources ======= -->
<div class="card" style="left:604px;top:476.5px;width:559px;height:115.5px">
  <div class="ph" style="padding-left:14px;letter-spacing:-0.35px">Resources</div>
  <div class="t b" style="left:4.7px;top:30.3px;letter-spacing:0.25px">Name</div>
  <div class="t b" style="left:339.5px;top:30.3px;letter-spacing:0.2px">Quantity</div>
  <div class="t b" style="left:469px;top:30.3px">Setup</div>
  <div class="hr" style="top:51.6px"></div>
  <div class="btn" style="left:4px;top:56.5px;width:141px;height:29.5px;line-height:29px;font-size:12.5px;letter-spacing:0px">Carl <svg width="8" height="5" viewBox="0 0 8 5" style="vertical-align:middle;position:relative;top:0px"><path d="M0.3 0.5 H7.7 L4 4.5 Z" fill="#fff"/></svg></div>
  <div class="t" style="left:149.5px;top:62px"><svg class="ic" width="5" height="8" viewBox="0 0 5 8"><path d="M0.3 0.4 L4.4 4 L0.3 7.6 Z" fill="#555"/></svg></div>
  <div class="t" style="left:339.5px;top:62px">1</div>
  <div class="t" style="left:4.7px;top:94px">saw<svg class="ic" width="5" height="8" viewBox="0 0 5 8"><path d="M0.3 0.4 L4.4 4 L0.3 7.6 Z" fill="#555"/></svg></div>
  <div class="t" style="left:339.5px;top:94px">1</div>
</div>

<!-- ======= Material ======= -->
<div class="card" style="left:604px;top:610px;width:559px;height:102.3px">
  <div class="ph" style="padding-left:14px">Material</div>
  <div class="t b" style="left:4.7px;top:29.7px;letter-spacing:0.25px">Name</div>
  <div class="t b" style="left:221.5px;top:29.7px;letter-spacing:0.2px">Quantity</div>
  <div class="t b" style="left:309.5px;top:29.7px">Onhand</div>
  <div class="t b" style="left:390.5px;top:29.7px">Date</div>
  <div class="hr" style="top:50.7px"></div>
  <div class="t" style="left:4.7px;top:55.5px">chair leg @ factory<svg class="ic" width="5" height="8" viewBox="0 0 5 8"><path d="M0.3 0.4 L4.4 4 L0.3 7.6 Z" fill="#555"/></svg></div>
  <div class="t" style="left:221.5px;top:55.5px">116</div>
  <div class="t" style="left:309.5px;top:55.5px">144</div>
  <div class="t" style="left:390.5px;top:55.5px">2021-04-20 03:20:00</div>
  <div class="t" style="left:4.7px;top:80.5px">wooden beam @ factory<svg class="ic" width="5" height="8" viewBox="0 0 5 8"><path d="M0.3 0.4 L4.4 4 L0.3 7.6 Z" fill="#555"/></svg></div>
  <div class="t" style="left:221.5px;top:80.5px">-116</div>
  <div class="t" style="left:309.5px;top:80.5px">22</div>
  <div class="t" style="left:390.5px;top:80.5px">2021-04-16 12:40:00</div>
</div>

<!-- ======= Demands ======= -->
<div class="card" style="left:604px;top:730px;width:559px;height:135.5px">
  <div class="ph" style="padding-left:14px">Demands</div>
  <div class="t b" style="left:4.7px;top:29.7px;letter-spacing:0.25px">Name</div>
  <div class="t b" style="left:289.3px;top:29.7px">Item</div>
  <div class="t b" style="left:385.3px;top:29.7px">Due</div>
  <div class="t b" style="left:498.5px;top:29.7px;letter-spacing:0.2px">Quantity</div>
  <div class="hr" style="top:51px"></div>
  <div class="t" style="left:4.7px;top:55.7px;line-height:17px">varnished chair @ shop 2 @ All customers -<br>2021-05-01</div>
  <div class="t" style="left:289.3px;top:55.7px;line-height:17px">varnished<br>chair<svg class="ic" width="5" height="8" viewBox="0 0 5 8"><path d="M0.3 0.4 L4.4 4 L0.3 7.6 Z" fill="#555"/></svg></div>
  <div class="t" style="left:385.3px;top:55.7px;line-height:17px">2021-05-16<br>00:00:00</div>
  <div class="t" style="left:498.5px;top:55.7px;line-height:17px">26</div>
  <div class="t" style="left:4.7px;top:97.5px;line-height:17px">varnished chair @ shop 1 @ All customers -<br>2021-05-01</div>
  <div class="t" style="left:289.3px;top:97.5px;line-height:17px">varnished<br>chair<svg class="ic" width="5" height="8" viewBox="0 0 5 8"><path d="M0.3 0.4 L4.4 4 L0.3 7.6 Z" fill="#555"/></svg></div>
  <div class="t" style="left:385.3px;top:97.5px;line-height:17px">2021-05-16<br>00:00:00</div>
  <div class="t" style="left:498.5px;top:97.5px;line-height:17px">3</div>
</div>

<svg style="position:absolute;left:0;top:0" width="1195" height="891" viewBox="0 0 1195 891"><path d="M27.6 398.8 L27.6 407.8 L22.6 403.3 Z" fill="#a3a3a3"/><path d="M236 398.8 L236 407.8 L241 403.3 Z" fill="#a3a3a3"/><path d="M262.3 398.8 L262.3 407.8 L257.3 403.3 Z" fill="#7b7b7b"/><path d="M1109 399 L1109 408 L1114 403.5 Z" fill="#505050"/><path d="M1127.9 178.3 L1136.9 178.3 L1132.4 173.3 Z" fill="#a3a3a3"/><path d="M1127.9 379 L1136.9 379 L1132.4 384 Z" fill="#505050"/><path d="M1182.9 57.8 L1191.9 57.8 L1187.4 52.8 Z" fill="#a3a3a3"/><path d="M1182.9 875.7 L1191.9 875.7 L1187.4 880.7 Z" fill="#a3a3a3"/></svg>

<!-- ======= navbar ======= -->
<div id="nav">
  <svg class="abs" style="left:9.3px;top:15.4px" width="13" height="11" viewBox="0 0 13 11"><rect x="0.2" y="0.2" width="5.6" height="4.4" rx="0.8" fill="#fff"/><rect x="6.8" y="0.2" width="5.6" height="4.4" rx="0.8" fill="#fff"/><rect x="0.2" y="5.6" width="5.6" height="4.4" rx="0.8" fill="#fff"/><rect x="6.8" y="5.6" width="5.6" height="4.4" rx="0.8" fill="#fff"/></svg>
  <div id="brand">Manufacturing</div>
  <div class="abs" style="left:289px;top:0;width:79px;height:42.5px;background:#684996"></div>
  <div class="mi" style="left:229px">Overview</div>
  <div class="mi" style="left:299px">Operations</div>
  <div class="mi" style="left:377px">Master Data</div>
  <div class="mi" style="left:462px">Reporting</div>
  <div class="mi" style="left:534px">Configuration</div>
  <svg class="abs" style="left:631px;top:15px" width="11" height="11" viewBox="0 0 11 11"><path d="M5.5 1.2 V9.8 M1.2 5.5 H9.8" stroke="#fff" stroke-width="2.6" stroke-linecap="round"/></svg>
  <!-- clock -->
  <svg class="abs" style="left:786.5px;top:13px" width="14" height="14" viewBox="0 0 14 14"><circle cx="7" cy="7" r="5.2" fill="none" stroke="#b3a4d2" stroke-width="2"/><path d="M7.4 4 V7.6 H4.8" fill="none" stroke="#b3a4d2" stroke-width="1.4"/></svg>
  <!-- chat -->
  <svg class="abs" style="left:818px;top:13px" width="17" height="15" viewBox="0 0 17 15"><ellipse cx="6.3" cy="5.6" rx="5.8" ry="4.4" fill="#fff"/><path d="M2.4 8 L1 11.6 L5.6 9.6 Z" fill="#fff"/><path d="M13.2 5.5 C15.6 6.3 16.6 7.6 16.6 8.8 C16.6 10 15.8 11 14.8 11.6 L15.8 13.8 L12.4 12.5 C10.2 13 8.2 12.2 7.4 11 C10.8 10.8 13.4 8.6 13.2 5.5 Z" fill="#fff"/></svg>
  <div class="abs" style="left:830.5px;top:9.5px;width:13.5px;height:13.5px;border-radius:7px;background:#00a09d;color:#fff;font-size:9px;font-weight:bold;line-height:13.5px;text-align:center">3</div>
  <div class="mi" style="left:864px;letter-spacing:0.1px">My Company (San Francisco)</div>
  <svg class="abs" style="left:1030.5px;top:18.5px" width="8" height="5" viewBox="0 0 8 5"><path d="M0.2 0.4 H7.8 L4 4.4 Z" fill="#fff"/></svg>
  <!-- avatar -->
  <svg class="abs" style="left:1063px;top:8px" width="24" height="24" viewBox="0 0 24 24"><defs><clipPath id="av"><circle cx="12" cy="12" r="11.9"/></clipPath><filter id="bl" x="-10%" y="-10%" width="120%" height="120%"><feGaussianBlur stdDeviation="0.55"/></filter></defs><g clip-path="url(#av)"><rect width="24" height="24" fill="#83713a"/><g filter="url(#bl)"><rect x="-1" y="-1" width="26" height="26" fill="#83713a"/><path d="M0 8.5 H24 M0 11.5 H24 M0 14.5 H24 M0 5.5 H24 M0 17.5 H24" stroke="#6a5a2a" stroke-width="0.7"/><path d="M2 3 Q7 -1 13 1 L8 8 L2 9 Z" fill="#3d3220"/><path d="M3.5 24 L6.5 17.5 L12.5 18.5 L12 24 Z" fill="#b57a4c"/><path d="M12 19.5 L18.5 18.6 L22 24 L12 24 Z" fill="#7d8c8c"/><ellipse cx="5.6" cy="11.4" rx="1" ry="1.7" fill="#c4805e"/><ellipse cx="11.7" cy="12.2" rx="5.5" ry="7" fill="#d9a28c"/><ellipse cx="11.6" cy="7.6" rx="4.2" ry="2.6" fill="#ecd4ca"/><path d="M5.8 9 C5.6 3.4 9 1.2 12.8 1.4 C16.8 1.6 19.4 4.6 18.2 11 C17.6 8 16.6 5.6 14.6 4.6 C12 3.8 8.6 4.6 7.2 6.4 C6.4 7.4 6.2 8.2 5.8 9 Z" fill="#2b2119"/><path d="M6.6 9.2 L11 9.7 L17.4 10.6" stroke="#5e4a48" stroke-width="0.75" fill="none"/><ellipse cx="11.6" cy="15.2" rx="2.3" ry="1" fill="#c8687a"/><ellipse cx="11.6" cy="15" rx="1.5" ry="0.45" fill="#f0e0e0"/></g></g></svg>
  <div class="mi" style="left:1091px">Mitchell Admin</div>
  <svg class="abs" style="left:1175px;top:18.5px" width="8" height="5" viewBox="0 0 8 5"><path d="M0.2 0.4 H7.8 L4 4.4 Z" fill="#fff"/></svg>
</div>
<div id="dd">
  <div style="top:8px">Manufacturing Orders</div>
  <div style="top:31.2px">Work Orders</div>
  <div style="top:54.7px">Unbuild Orders</div>
  <div style="top:78px">Scrap Orders</div>
  <div style="top:101.7px;background:#e9ecef">Plan editor - frePPLe</div>
</div>
</body></html>
